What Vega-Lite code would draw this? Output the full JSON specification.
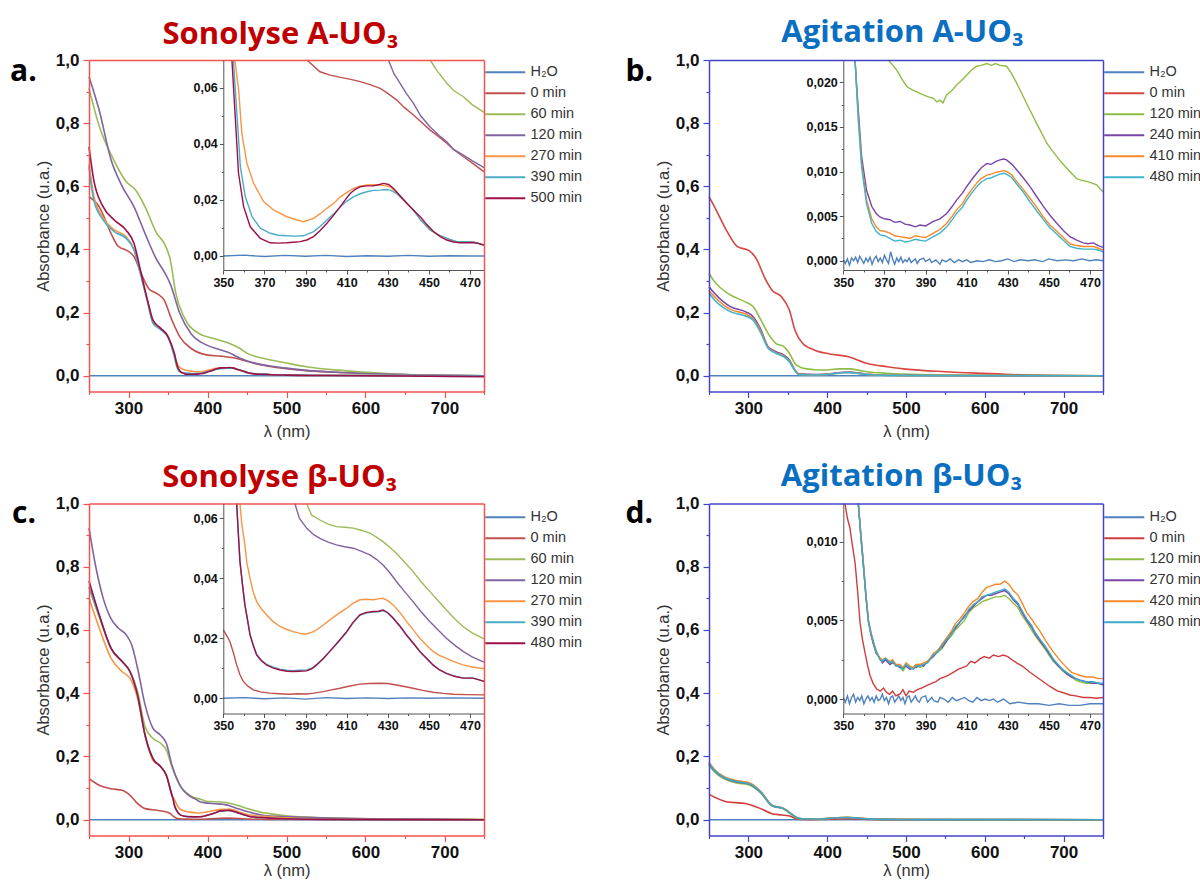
{
"$schema": "https://vega.github.io/schema/vega-lite/v6.json",
"width": 1200, "height": 882, "autosize": {"type": "none"}, "padding": 0, "background": "white",
"config": {
  "view": {"stroke": null},
  "axis": {"labelFont": "Liberation Sans", "titleFont": "Liberation Sans", "labelColor": "#111", "titleColor": "#333", "titleFontWeight": "normal", "labelFontWeight": "bold", "grid": false, "labelOverlap": false, "labelFlush": false, "labelBound": false},
  "legend": {"labelFont": "Liberation Sans", "labelFontSize": 14.5, "labelColor": "#333"}
},
"datasets": {
"aM": [
{"s":"H₂O","x":250,"y":0},{"s":"H₂O","x":500,"y":0},{"s":"H₂O","x":750,"y":0},
{"s":"0 min","x":250,"y":0.567},{"s":"0 min","x":263,"y":0.535},{"s":"0 min","x":278,"y":0.45},{"s":"0 min","x":287,"y":0.41},{"s":"0 min","x":297,"y":0.398},{"s":"0 min","x":307,"y":0.377},{"s":"0 min","x":316,"y":0.324},{"s":"0 min","x":326,"y":0.275},{"s":"0 min","x":336,"y":0.26},{"s":"0 min","x":345,"y":0.24},{"s":"0 min","x":355,"y":0.176},{"s":"0 min","x":365,"y":0.123},{"s":"0 min","x":379,"y":0.087},{"s":"0 min","x":399,"y":0.066},{"s":"0 min","x":417,"y":0.062},{"s":"0 min","x":434,"y":0.056},{"s":"0 min","x":451,"y":0.045},{"s":"0 min","x":467,"y":0.035},{"s":"0 min","x":477,"y":0.03},{"s":"0 min","x":500,"y":0.022},{"s":"0 min","x":525,"y":0.016},{"s":"0 min","x":573,"y":0.01},{"s":"0 min","x":622,"y":0.006},{"s":"0 min","x":670,"y":0.002},{"s":"0 min","x":750,"y":0},
{"s":"60 min","x":250,"y":0.91},{"s":"60 min","x":263,"y":0.79},{"s":"60 min","x":282,"y":0.68},{"s":"60 min","x":297,"y":0.615},{"s":"60 min","x":309,"y":0.588},{"s":"60 min","x":321,"y":0.535},{"s":"60 min","x":336,"y":0.45},{"s":"60 min","x":345,"y":0.42},{"s":"60 min","x":353,"y":0.366},{"s":"60 min","x":360,"y":0.26},{"s":"60 min","x":370,"y":0.187},{"s":"60 min","x":389,"y":0.134},{"s":"60 min","x":408,"y":0.118},{"s":"60 min","x":428,"y":0.102},{"s":"60 min","x":440,"y":0.088},{"s":"60 min","x":451,"y":0.07},{"s":"60 min","x":460,"y":0.0616},{"s":"60 min","x":467,"y":0.0568},{"s":"60 min","x":477,"y":0.0514},{"s":"60 min","x":500,"y":0.04},{"s":"60 min","x":525,"y":0.0285},{"s":"60 min","x":573,"y":0.016},{"s":"60 min","x":622,"y":0.0074},{"s":"60 min","x":670,"y":0.002},{"s":"60 min","x":750,"y":0},
{"s":"120 min","x":250,"y":0.947},{"s":"120 min","x":263,"y":0.84},{"s":"120 min","x":278,"y":0.683},{"s":"120 min","x":292,"y":0.6},{"s":"120 min","x":307,"y":0.535},{"s":"120 min","x":321,"y":0.45},{"s":"120 min","x":336,"y":0.366},{"s":"120 min","x":345,"y":0.33},{"s":"120 min","x":353,"y":0.29},{"s":"120 min","x":365,"y":0.197},{"s":"120 min","x":379,"y":0.134},{"s":"120 min","x":399,"y":0.097},{"s":"120 min","x":415,"y":0.083},{"s":"120 min","x":430,"y":0.07},{"s":"120 min","x":436,"y":0.0616},{"s":"120 min","x":442.5,"y":0.0544},{"s":"120 min","x":451,"y":0.046},{"s":"120 min","x":459,"y":0.0407},{"s":"120 min","x":467,"y":0.036},{"s":"120 min","x":477,"y":0.0318},{"s":"120 min","x":500,"y":0.024},{"s":"120 min","x":525,"y":0.017},{"s":"120 min","x":573,"y":0.0095},{"s":"120 min","x":622,"y":0.005},{"s":"120 min","x":670,"y":0.002},{"s":"120 min","x":750,"y":0},
{"s":"270 min","x":250,"y":0.67},{"s":"270 min","x":256,"y":0.57},{"s":"270 min","x":268,"y":0.5},{"s":"270 min","x":282,"y":0.462},{"s":"270 min","x":297,"y":0.44},{"s":"270 min","x":307,"y":0.4},{"s":"270 min","x":316,"y":0.318},{"s":"270 min","x":324,"y":0.238},{"s":"270 min","x":331,"y":0.17},{"s":"270 min","x":341,"y":0.148},{"s":"270 min","x":350,"y":0.125},{"s":"270 min","x":357,"y":0.075},{"s":"270 min","x":362,"y":0.036},{"s":"270 min","x":365,"y":0.026},{"s":"270 min","x":370,"y":0.0194},{"s":"270 min","x":374,"y":0.0164},{"s":"270 min","x":381,"y":0.014},{"s":"270 min","x":389,"y":0.0122},{"s":"270 min","x":394,"y":0.0134},{"s":"270 min","x":400,"y":0.017},{"s":"270 min","x":407,"y":0.0211},{"s":"270 min","x":413,"y":0.0241},{"s":"270 min","x":420,"y":0.0253},{"s":"270 min","x":426,"y":0.0253},{"s":"270 min","x":431,"y":0.0247},{"s":"270 min","x":438,"y":0.02},{"s":"270 min","x":442.5,"y":0.0164},{"s":"270 min","x":451,"y":0.0093},{"s":"270 min","x":459,"y":0.0063},{"s":"270 min","x":470,"y":0.0051},{"s":"270 min","x":477,"y":0.0039},{"s":"270 min","x":500,"y":0.002},{"s":"270 min","x":550,"y":0.001},{"s":"270 min","x":750,"y":0},
{"s":"390 min","x":250,"y":0.662},{"s":"390 min","x":256,"y":0.556},{"s":"390 min","x":268,"y":0.493},{"s":"390 min","x":282,"y":0.456},{"s":"390 min","x":297,"y":0.435},{"s":"390 min","x":307,"y":0.398},{"s":"390 min","x":316,"y":0.314},{"s":"390 min","x":324,"y":0.234},{"s":"390 min","x":331,"y":0.166},{"s":"390 min","x":341,"y":0.145},{"s":"390 min","x":350,"y":0.121},{"s":"390 min","x":357,"y":0.07},{"s":"390 min","x":361,"y":0.03},{"s":"390 min","x":364,"y":0.014},{"s":"390 min","x":368,"y":0.0099},{"s":"390 min","x":373,"y":0.0081},{"s":"390 min","x":381,"y":0.0072},{"s":"390 min","x":389,"y":0.0072},{"s":"390 min","x":394,"y":0.0087},{"s":"390 min","x":400,"y":0.0128},{"s":"390 min","x":407,"y":0.0176},{"s":"390 min","x":413,"y":0.0211},{"s":"390 min","x":420,"y":0.0229},{"s":"390 min","x":426,"y":0.0235},{"s":"390 min","x":431,"y":0.0235},{"s":"390 min","x":438,"y":0.02},{"s":"390 min","x":442.5,"y":0.0164},{"s":"390 min","x":451,"y":0.0093},{"s":"390 min","x":459,"y":0.0063},{"s":"390 min","x":470,"y":0.0051},{"s":"390 min","x":477,"y":0.0039},{"s":"390 min","x":500,"y":0.002},{"s":"390 min","x":550,"y":0.001},{"s":"390 min","x":750,"y":0},
{"s":"500 min","x":250,"y":0.725},{"s":"500 min","x":256,"y":0.62},{"s":"500 min","x":268,"y":0.535},{"s":"500 min","x":282,"y":0.493},{"s":"500 min","x":297,"y":0.461},{"s":"500 min","x":307,"y":0.419},{"s":"500 min","x":316,"y":0.324},{"s":"500 min","x":324,"y":0.24},{"s":"500 min","x":331,"y":0.176},{"s":"500 min","x":341,"y":0.15},{"s":"500 min","x":350,"y":0.124},{"s":"500 min","x":358,"y":0.071},{"s":"500 min","x":362,"y":0.029},{"s":"500 min","x":366,"y":0.012},{"s":"500 min","x":370,"y":0.0074},{"s":"500 min","x":373,"y":0.0047},{"s":"500 min","x":381,"y":0.0047},{"s":"500 min","x":387,"y":0.0051},{"s":"500 min","x":394,"y":0.0069},{"s":"500 min","x":400,"y":0.0117},{"s":"500 min","x":407,"y":0.0176},{"s":"500 min","x":412,"y":0.0223},{"s":"500 min","x":417,"y":0.0247},{"s":"500 min","x":423,"y":0.025},{"s":"500 min","x":428,"y":0.0259},{"s":"500 min","x":433,"y":0.0241},{"s":"500 min","x":439,"y":0.0188},{"s":"500 min","x":446,"y":0.014},{"s":"500 min","x":452,"y":0.0087},{"s":"500 min","x":459,"y":0.0057},{"s":"500 min","x":465,"y":0.0047},{"s":"500 min","x":472,"y":0.0048},{"s":"500 min","x":477,"y":0.0039},{"s":"500 min","x":500,"y":0.002},{"s":"500 min","x":550,"y":0.0005},{"s":"500 min","x":650,"y":-0.001},{"s":"500 min","x":750,"y":-0.003}
],
"aI": [
{"s":"H₂O","x":350,"y":0},{"s":"H₂O","x":360,"y":0.0003},{"s":"H₂O","x":370,"y":-0.0002},{"s":"H₂O","x":380,"y":0.0002},{"s":"H₂O","x":390,"y":-0.0001},{"s":"H₂O","x":400,"y":0.0002},{"s":"H₂O","x":410,"y":-0.0002},{"s":"H₂O","x":420,"y":0.0001},{"s":"H₂O","x":430,"y":-0.0001},{"s":"H₂O","x":440,"y":0.0002},{"s":"H₂O","x":450,"y":-0.0001},{"s":"H₂O","x":460,"y":0.0001},{"s":"H₂O","x":470,"y":0},{"s":"H₂O","x":476.8,"y":0},
{"s":"0 min","x":390.7,"y":0.0699},{"s":"0 min","x":397,"y":0.0657},{"s":"0 min","x":402,"y":0.0645},{"s":"0 min","x":407,"y":0.0637},{"s":"0 min","x":412,"y":0.063},{"s":"0 min","x":416.6,"y":0.0622},{"s":"0 min","x":421,"y":0.0612},{"s":"0 min","x":426.3,"y":0.0598},{"s":"0 min","x":430,"y":0.058},{"s":"0 min","x":434.4,"y":0.0556},{"s":"0 min","x":438,"y":0.053},{"s":"0 min","x":442.5,"y":0.0503},{"s":"0 min","x":446,"y":0.048},{"s":"0 min","x":450.6,"y":0.0449},{"s":"0 min","x":454,"y":0.043},{"s":"0 min","x":458.7,"y":0.0402},{"s":"0 min","x":462,"y":0.038},{"s":"0 min","x":466.8,"y":0.0354},{"s":"0 min","x":471,"y":0.0332},{"s":"0 min","x":476.8,"y":0.03},
{"s":"60 min","x":450.6,"y":0.0699},{"s":"60 min","x":454,"y":0.066},{"s":"60 min","x":458.7,"y":0.0616},{"s":"60 min","x":462,"y":0.059},{"s":"60 min","x":466.8,"y":0.0568},{"s":"60 min","x":471,"y":0.054},{"s":"60 min","x":476.8,"y":0.0512},
{"s":"120 min","x":430.3,"y":0.0699},{"s":"120 min","x":433,"y":0.065},{"s":"120 min","x":436,"y":0.0616},{"s":"120 min","x":439,"y":0.058},{"s":"120 min","x":442.5,"y":0.0544},{"s":"120 min","x":446,"y":0.05},{"s":"120 min","x":450.6,"y":0.046},{"s":"120 min","x":455,"y":0.043},{"s":"120 min","x":458.7,"y":0.0407},{"s":"120 min","x":462,"y":0.038},{"s":"120 min","x":466.8,"y":0.036},{"s":"120 min","x":471,"y":0.034},{"s":"120 min","x":476.8,"y":0.0315},
{"s":"270 min","x":355.6,"y":0.0699},{"s":"270 min","x":357.5,"y":0.059},{"s":"270 min","x":359,"y":0.0438},{"s":"270 min","x":361.5,"y":0.033},{"s":"270 min","x":364.7,"y":0.026},{"s":"270 min","x":369.6,"y":0.0194},{"s":"270 min","x":374.4,"y":0.0164},{"s":"270 min","x":380.9,"y":0.014},{"s":"270 min","x":385,"y":0.013},{"s":"270 min","x":389,"y":0.0122},{"s":"270 min","x":393.9,"y":0.0134},{"s":"270 min","x":397,"y":0.015},{"s":"270 min","x":400.4,"y":0.017},{"s":"270 min","x":404,"y":0.019},{"s":"270 min","x":406.9,"y":0.0211},{"s":"270 min","x":410,"y":0.0226},{"s":"270 min","x":413.3,"y":0.0241},{"s":"270 min","x":416.6,"y":0.0249},{"s":"270 min","x":419.8,"y":0.0253},{"s":"270 min","x":423,"y":0.0254},{"s":"270 min","x":426.3,"y":0.0253},{"s":"270 min","x":429,"y":0.025},{"s":"270 min","x":431.2,"y":0.0247},{"s":"270 min","x":434.4,"y":0.0225},{"s":"270 min","x":437.6,"y":0.02},{"s":"270 min","x":442.5,"y":0.0164},{"s":"270 min","x":446,"y":0.0128},{"s":"270 min","x":450.6,"y":0.0093},{"s":"270 min","x":454.6,"y":0.0075},{"s":"270 min","x":458.7,"y":0.0063},{"s":"270 min","x":463.5,"y":0.0051},{"s":"270 min","x":470,"y":0.0051},{"s":"270 min","x":473,"y":0.0047},{"s":"270 min","x":476.8,"y":0.0039},
{"s":"390 min","x":354.9,"y":0.0699},{"s":"390 min","x":356.7,"y":0.0497},{"s":"390 min","x":358.3,"y":0.0318},{"s":"390 min","x":360.7,"y":0.0211},{"s":"390 min","x":364,"y":0.014},{"s":"390 min","x":368,"y":0.0099},{"s":"390 min","x":372.8,"y":0.0081},{"s":"390 min","x":376.8,"y":0.0074},{"s":"390 min","x":380.9,"y":0.0072},{"s":"390 min","x":385,"y":0.0071},{"s":"390 min","x":389,"y":0.0072},{"s":"390 min","x":393.9,"y":0.0087},{"s":"390 min","x":397,"y":0.0105},{"s":"390 min","x":400.4,"y":0.0128},{"s":"390 min","x":404,"y":0.0152},{"s":"390 min","x":406.9,"y":0.0176},{"s":"390 min","x":410,"y":0.0195},{"s":"390 min","x":413.3,"y":0.0211},{"s":"390 min","x":416.6,"y":0.0222},{"s":"390 min","x":419.8,"y":0.0229},{"s":"390 min","x":423,"y":0.0234},{"s":"390 min","x":426.3,"y":0.0235},{"s":"390 min","x":429,"y":0.0237},{"s":"390 min","x":431.2,"y":0.0235},{"s":"390 min","x":434.4,"y":0.0222},{"s":"390 min","x":437.6,"y":0.02},{"s":"390 min","x":442.5,"y":0.0164},{"s":"390 min","x":446,"y":0.0128},{"s":"390 min","x":450.6,"y":0.0093},{"s":"390 min","x":454.6,"y":0.0075},{"s":"390 min","x":458.7,"y":0.0063},{"s":"390 min","x":463.5,"y":0.0051},{"s":"390 min","x":470,"y":0.0051},{"s":"390 min","x":473,"y":0.0047},{"s":"390 min","x":476.8,"y":0.0039},
{"s":"500 min","x":354.2,"y":0.0699},{"s":"500 min","x":355.8,"y":0.0497},{"s":"500 min","x":357.4,"y":0.0295},{"s":"500 min","x":359.9,"y":0.0176},{"s":"500 min","x":363.1,"y":0.0104},{"s":"500 min","x":368,"y":0.0063},{"s":"500 min","x":372.8,"y":0.0047},{"s":"500 min","x":376.8,"y":0.0046},{"s":"500 min","x":380.9,"y":0.0047},{"s":"500 min","x":384,"y":0.0049},{"s":"500 min","x":387.4,"y":0.0051},{"s":"500 min","x":390.6,"y":0.0057},{"s":"500 min","x":393.9,"y":0.0069},{"s":"500 min","x":397,"y":0.009},{"s":"500 min","x":400.4,"y":0.0117},{"s":"500 min","x":403.6,"y":0.0145},{"s":"500 min","x":406.9,"y":0.0176},{"s":"500 min","x":409.3,"y":0.02},{"s":"500 min","x":411.7,"y":0.0223},{"s":"500 min","x":414,"y":0.0237},{"s":"500 min","x":416.6,"y":0.0247},{"s":"500 min","x":419.8,"y":0.025},{"s":"500 min","x":423,"y":0.025},{"s":"500 min","x":426,"y":0.0255},{"s":"500 min","x":427.9,"y":0.0259},{"s":"500 min","x":430.4,"y":0.0255},{"s":"500 min","x":432.8,"y":0.0241},{"s":"500 min","x":436,"y":0.0215},{"s":"500 min","x":439.3,"y":0.0188},{"s":"500 min","x":442.5,"y":0.0163},{"s":"500 min","x":445.8,"y":0.014},{"s":"500 min","x":449,"y":0.0112},{"s":"500 min","x":452.2,"y":0.0087},{"s":"500 min","x":455.5,"y":0.0069},{"s":"500 min","x":458.7,"y":0.0057},{"s":"500 min","x":462,"y":0.005},{"s":"500 min","x":465.2,"y":0.0047},{"s":"500 min","x":468.4,"y":0.0047},{"s":"500 min","x":471.6,"y":0.0048},{"s":"500 min","x":474,"y":0.0045},{"s":"500 min","x":476.8,"y":0.0039}
],
"bM": [
{"s":"H₂O","x":250,"y":0},{"s":"H₂O","x":500,"y":0},{"s":"H₂O","x":750,"y":0},
{"s":"0 min","x":250,"y":0.567},{"s":"0 min","x":257,"y":0.535},{"s":"0 min","x":272,"y":0.461},{"s":"0 min","x":286,"y":0.409},{"s":"0 min","x":301,"y":0.396},{"s":"0 min","x":311,"y":0.366},{"s":"0 min","x":320,"y":0.314},{"s":"0 min","x":330,"y":0.271},{"s":"0 min","x":342,"y":0.25},{"s":"0 min","x":352,"y":0.208},{"s":"0 min","x":359,"y":0.145},{"s":"0 min","x":369,"y":0.102},{"s":"0 min","x":384,"y":0.081},{"s":"0 min","x":403,"y":0.069},{"s":"0 min","x":427,"y":0.06},{"s":"0 min","x":451,"y":0.039},{"s":"0 min","x":476,"y":0.0285},{"s":"0 min","x":500,"y":0.021},{"s":"0 min","x":549,"y":0.0127},{"s":"0 min","x":597,"y":0.0074},{"s":"0 min","x":646,"y":0.003},{"s":"0 min","x":750,"y":0},
{"s":"120 min","x":250,"y":0.324},{"s":"120 min","x":257,"y":0.298},{"s":"120 min","x":277,"y":0.256},{"s":"120 min","x":296,"y":0.234},{"s":"120 min","x":306,"y":0.219},{"s":"120 min","x":316,"y":0.176},{"s":"120 min","x":325,"y":0.134},{"s":"120 min","x":335,"y":0.102},{"s":"120 min","x":345,"y":0.092},{"s":"120 min","x":352,"y":0.071},{"s":"120 min","x":359,"y":0.039},{"s":"120 min","x":365,"y":0.028},{"s":"120 min","x":372,"y":0.0225},{"s":"120 min","x":384,"y":0.0191},{"s":"120 min","x":397,"y":0.018},{"s":"120 min","x":405,"y":0.0197},{"s":"120 min","x":415,"y":0.0218},{"s":"120 min","x":429,"y":0.0218},{"s":"120 min","x":439,"y":0.0176},{"s":"120 min","x":449,"y":0.0132},{"s":"120 min","x":459,"y":0.0104},{"s":"120 min","x":476,"y":0.0077},{"s":"120 min","x":500,"y":0.005},{"s":"120 min","x":550,"y":0.002},{"s":"120 min","x":650,"y":0.001},{"s":"120 min","x":750,"y":0},
{"s":"240 min","x":250,"y":0.282},{"s":"240 min","x":257,"y":0.261},{"s":"240 min","x":277,"y":0.219},{"s":"240 min","x":296,"y":0.203},{"s":"240 min","x":306,"y":0.187},{"s":"240 min","x":316,"y":0.145},{"s":"240 min","x":325,"y":0.092},{"s":"240 min","x":335,"y":0.076},{"s":"240 min","x":345,"y":0.065},{"s":"240 min","x":352,"y":0.05},{"s":"240 min","x":359,"y":0.018},{"s":"240 min","x":364,"y":0.006},{"s":"240 min","x":377,"y":0.0044},{"s":"240 min","x":387,"y":0.004},{"s":"240 min","x":400,"y":0.0053},{"s":"240 min","x":410,"y":0.0083},{"s":"240 min","x":420,"y":0.0109},{"s":"240 min","x":429,"y":0.0113},{"s":"240 min","x":441,"y":0.0083},{"s":"240 min","x":454,"y":0.0042},{"s":"240 min","x":467,"y":0.002},{"s":"240 min","x":476,"y":0.0015},{"s":"240 min","x":520,"y":0.0005},{"s":"240 min","x":750,"y":0},
{"s":"410 min","x":250,"y":0.27},{"s":"410 min","x":257,"y":0.25},{"s":"410 min","x":277,"y":0.21},{"s":"410 min","x":296,"y":0.196},{"s":"410 min","x":306,"y":0.18},{"s":"410 min","x":316,"y":0.14},{"s":"410 min","x":325,"y":0.089},{"s":"410 min","x":335,"y":0.073},{"s":"410 min","x":345,"y":0.062},{"s":"410 min","x":352,"y":0.047},{"s":"410 min","x":359,"y":0.017},{"s":"410 min","x":364,"y":0.005},{"s":"410 min","x":377,"y":0.0027},{"s":"410 min","x":387,"y":0.0027},{"s":"410 min","x":400,"y":0.0042},{"s":"410 min","x":410,"y":0.0072},{"s":"410 min","x":420,"y":0.0096},{"s":"410 min","x":429,"y":0.01},{"s":"410 min","x":441,"y":0.007},{"s":"410 min","x":454,"y":0.0033},{"s":"410 min","x":467,"y":0.0016},{"s":"410 min","x":476,"y":0.0012},{"s":"410 min","x":520,"y":0.0004},{"s":"410 min","x":750,"y":0},
{"s":"480 min","x":250,"y":0.261},{"s":"480 min","x":257,"y":0.24},{"s":"480 min","x":277,"y":0.203},{"s":"480 min","x":296,"y":0.189},{"s":"480 min","x":306,"y":0.176},{"s":"480 min","x":316,"y":0.134},{"s":"480 min","x":325,"y":0.087},{"s":"480 min","x":335,"y":0.071},{"s":"480 min","x":345,"y":0.06},{"s":"480 min","x":352,"y":0.044},{"s":"480 min","x":359,"y":0.016},{"s":"480 min","x":364,"y":0.003},{"s":"480 min","x":377,"y":0.0024},{"s":"480 min","x":387,"y":0.0023},{"s":"480 min","x":400,"y":0.0038},{"s":"480 min","x":410,"y":0.0068},{"s":"480 min","x":420,"y":0.0092},{"s":"480 min","x":429,"y":0.0097},{"s":"480 min","x":441,"y":0.0066},{"s":"480 min","x":454,"y":0.003},{"s":"480 min","x":467,"y":0.0014},{"s":"480 min","x":476,"y":0.001},{"s":"480 min","x":520,"y":0.0003},{"s":"480 min","x":750,"y":0}
],
"bI": [
{"s":"H₂O","x":350,"y":0.0001},{"s":"H₂O","x":351,"y":-0.0003},{"s":"H₂O","x":352,"y":0.0002},{"s":"H₂O","x":353,"y":-0.0005},{"s":"H₂O","x":354,"y":0.0003},{"s":"H₂O","x":355,"y":0},{"s":"H₂O","x":356,"y":0.0004},{"s":"H₂O","x":357,"y":-0.0002},{"s":"H₂O","x":358,"y":0.0005},{"s":"H₂O","x":359,"y":0.0001},{"s":"H₂O","x":360,"y":-0.0003},{"s":"H₂O","x":361,"y":0.0003},{"s":"H₂O","x":362,"y":-0.0001},{"s":"H₂O","x":363,"y":0.0004},{"s":"H₂O","x":364,"y":-0.0004},{"s":"H₂O","x":365,"y":0.0002},{"s":"H₂O","x":366,"y":0.0005},{"s":"H₂O","x":367,"y":-0.0001},{"s":"H₂O","x":368,"y":0.0003},{"s":"H₂O","x":369,"y":-0.0002},{"s":"H₂O","x":370,"y":0.0006},{"s":"H₂O","x":371,"y":0.0001},{"s":"H₂O","x":372,"y":-0.0003},{"s":"H₂O","x":373,"y":0.001},{"s":"H₂O","x":374,"y":0.0002},{"s":"H₂O","x":375,"y":-0.0004},{"s":"H₂O","x":376,"y":0.0003},{"s":"H₂O","x":377,"y":-0.0001},{"s":"H₂O","x":378,"y":0.0004},{"s":"H₂O","x":379,"y":-0.0002},{"s":"H₂O","x":380,"y":0.0001},{"s":"H₂O","x":381,"y":-0.0001},{"s":"H₂O","x":382,"y":0.0003},{"s":"H₂O","x":383,"y":-0.0002},{"s":"H₂O","x":385,"y":0.0002},{"s":"H₂O","x":386,"y":-0.0003},{"s":"H₂O","x":387,"y":0.0001},{"s":"H₂O","x":389,"y":0.0003},{"s":"H₂O","x":390,"y":-0.0001},{"s":"H₂O","x":392,"y":0.0002},{"s":"H₂O","x":393,"y":-0.0002},{"s":"H₂O","x":395,"y":0.0001},{"s":"H₂O","x":397,"y":-0.0004},{"s":"H₂O","x":398,"y":0.0001},{"s":"H₂O","x":400,"y":-0.0001},{"s":"H₂O","x":402,"y":0.0002},{"s":"H₂O","x":404,"y":-0.0002},{"s":"H₂O","x":406,"y":0.0001},{"s":"H₂O","x":408,"y":-0.0001},{"s":"H₂O","x":410,"y":0.0001},{"s":"H₂O","x":412,"y":-0.0002},{"s":"H₂O","x":415,"y":0},{"s":"H₂O","x":418,"y":-0.0001},{"s":"H₂O","x":421,"y":0.0001},{"s":"H₂O","x":424,"y":-0.0001},{"s":"H₂O","x":427,"y":0},{"s":"H₂O","x":430,"y":0.0002},{"s":"H₂O","x":433,"y":-0.0001},{"s":"H₂O","x":436,"y":0.0001},{"s":"H₂O","x":440,"y":0},{"s":"H₂O","x":443,"y":0.0001},{"s":"H₂O","x":447,"y":-0.0001},{"s":"H₂O","x":450,"y":0.0002},{"s":"H₂O","x":454,"y":0},{"s":"H₂O","x":458,"y":0.0001},{"s":"H₂O","x":462,"y":0},{"s":"H₂O","x":466,"y":0.0002},{"s":"H₂O","x":470,"y":0},{"s":"H₂O","x":473,"y":0.0001},{"s":"H₂O","x":476.3,"y":0},
{"s":"120 min","x":371.9,"y":0.0225},{"s":"120 min","x":375.9,"y":0.0214},{"s":"120 min","x":379.2,"y":0.0201},{"s":"120 min","x":381,"y":0.0195},{"s":"120 min","x":384,"y":0.0191},{"s":"120 min","x":386,"y":0.0189},{"s":"120 min","x":388.9,"y":0.0186},{"s":"120 min","x":391,"y":0.0184},{"s":"120 min","x":393.8,"y":0.0182},{"s":"120 min","x":395.5,"y":0.0178},{"s":"120 min","x":397,"y":0.018},{"s":"120 min","x":398.5,"y":0.0177},{"s":"120 min","x":400.3,"y":0.0186},{"s":"120 min","x":402.5,"y":0.019},{"s":"120 min","x":405.1,"y":0.0197},{"s":"120 min","x":407.5,"y":0.0202},{"s":"120 min","x":410,"y":0.0208},{"s":"120 min","x":412.5,"y":0.0214},{"s":"120 min","x":414.9,"y":0.0218},{"s":"120 min","x":417,"y":0.0219},{"s":"120 min","x":419.8,"y":0.0221},{"s":"120 min","x":422,"y":0.0219},{"s":"120 min","x":424,"y":0.0221},{"s":"120 min","x":426.2,"y":0.0219},{"s":"120 min","x":429.4,"y":0.0218},{"s":"120 min","x":431.8,"y":0.021},{"s":"120 min","x":434.3,"y":0.0199},{"s":"120 min","x":436.7,"y":0.0188},{"s":"120 min","x":439.2,"y":0.0176},{"s":"120 min","x":441.6,"y":0.0165},{"s":"120 min","x":444,"y":0.0154},{"s":"120 min","x":446.5,"y":0.0143},{"s":"120 min","x":448.9,"y":0.0132},{"s":"120 min","x":451.4,"y":0.0124},{"s":"120 min","x":453.8,"y":0.0117},{"s":"120 min","x":456.2,"y":0.011},{"s":"120 min","x":458.6,"y":0.0104},{"s":"120 min","x":461,"y":0.0098},{"s":"120 min","x":463.5,"y":0.0092},{"s":"120 min","x":466,"y":0.009},{"s":"120 min","x":468.4,"y":0.0089},{"s":"120 min","x":471,"y":0.0087},{"s":"120 min","x":473.2,"y":0.0085},{"s":"120 min","x":476.3,"y":0.0077},
{"s":"240 min","x":355.7,"y":0.0225},{"s":"240 min","x":357.3,"y":0.0169},{"s":"240 min","x":358.9,"y":0.0117},{"s":"240 min","x":361.3,"y":0.0079},{"s":"240 min","x":363.8,"y":0.0061},{"s":"240 min","x":366,"y":0.0053},{"s":"240 min","x":367.8,"y":0.0049},{"s":"240 min","x":370,"y":0.0047},{"s":"240 min","x":372.7,"y":0.0046},{"s":"240 min","x":375,"y":0.0043},{"s":"240 min","x":377.6,"y":0.0044},{"s":"240 min","x":380,"y":0.0041},{"s":"240 min","x":382.4,"y":0.004},{"s":"240 min","x":385,"y":0.0038},{"s":"240 min","x":387.3,"y":0.004},{"s":"240 min","x":390,"y":0.0039},{"s":"240 min","x":393.8,"y":0.0044},{"s":"240 min","x":397,"y":0.0047},{"s":"240 min","x":400.3,"y":0.0053},{"s":"240 min","x":403,"y":0.0061},{"s":"240 min","x":405.1,"y":0.0068},{"s":"240 min","x":408,"y":0.0076},{"s":"240 min","x":410,"y":0.0083},{"s":"240 min","x":412.5,"y":0.0091},{"s":"240 min","x":414.9,"y":0.0098},{"s":"240 min","x":417,"y":0.0104},{"s":"240 min","x":419.8,"y":0.0109},{"s":"240 min","x":422,"y":0.0108},{"s":"240 min","x":424,"y":0.0111},{"s":"240 min","x":426.2,"y":0.0113},{"s":"240 min","x":428,"y":0.0114},{"s":"240 min","x":429.4,"y":0.0113},{"s":"240 min","x":432,"y":0.0108},{"s":"240 min","x":434.3,"y":0.0102},{"s":"240 min","x":437.5,"y":0.0093},{"s":"240 min","x":440.8,"y":0.0083},{"s":"240 min","x":444,"y":0.0072},{"s":"240 min","x":447.3,"y":0.0061},{"s":"240 min","x":450.5,"y":0.0051},{"s":"240 min","x":453.8,"y":0.0042},{"s":"240 min","x":457,"y":0.0034},{"s":"240 min","x":460.2,"y":0.0027},{"s":"240 min","x":463.5,"y":0.0023},{"s":"240 min","x":466.7,"y":0.002},{"s":"240 min","x":469,"y":0.0019},{"s":"240 min","x":471.6,"y":0.002},{"s":"240 min","x":474,"y":0.0017},{"s":"240 min","x":476.3,"y":0.0015},
{"s":"410 min","x":355.7,"y":0.0225},{"s":"410 min","x":357.3,"y":0.0161},{"s":"410 min","x":358.9,"y":0.0109},{"s":"410 min","x":361.3,"y":0.0068},{"s":"410 min","x":363.8,"y":0.0047},{"s":"410 min","x":366,"y":0.0038},{"s":"410 min","x":367.8,"y":0.0034},{"s":"410 min","x":370,"y":0.0033},{"s":"410 min","x":372.7,"y":0.0031},{"s":"410 min","x":375,"y":0.0028},{"s":"410 min","x":377.6,"y":0.0027},{"s":"410 min","x":380,"y":0.0026},{"s":"410 min","x":382.4,"y":0.0025},{"s":"410 min","x":385,"y":0.0028},{"s":"410 min","x":387.3,"y":0.0027},{"s":"410 min","x":390,"y":0.0026},{"s":"410 min","x":393.8,"y":0.0031},{"s":"410 min","x":397,"y":0.0035},{"s":"410 min","x":400.3,"y":0.0042},{"s":"410 min","x":403,"y":0.005},{"s":"410 min","x":405.1,"y":0.0057},{"s":"410 min","x":408,"y":0.0064},{"s":"410 min","x":410,"y":0.0072},{"s":"410 min","x":412.5,"y":0.008},{"s":"410 min","x":414.9,"y":0.0087},{"s":"410 min","x":417,"y":0.0092},{"s":"410 min","x":419.8,"y":0.0096},{"s":"410 min","x":422,"y":0.0097},{"s":"410 min","x":424,"y":0.0099},{"s":"410 min","x":426.2,"y":0.01},{"s":"410 min","x":428,"y":0.0101},{"s":"410 min","x":429.4,"y":0.01},{"s":"410 min","x":432,"y":0.0096},{"s":"410 min","x":434.3,"y":0.0089},{"s":"410 min","x":437.5,"y":0.008},{"s":"410 min","x":440.8,"y":0.007},{"s":"410 min","x":444,"y":0.006},{"s":"410 min","x":447.3,"y":0.0049},{"s":"410 min","x":450.5,"y":0.004},{"s":"410 min","x":453.8,"y":0.0033},{"s":"410 min","x":457,"y":0.0026},{"s":"410 min","x":460.2,"y":0.0019},{"s":"410 min","x":463.5,"y":0.0017},{"s":"410 min","x":466.7,"y":0.0016},{"s":"410 min","x":469,"y":0.0016},{"s":"410 min","x":471.6,"y":0.0016},{"s":"410 min","x":474,"y":0.0014},{"s":"410 min","x":476.3,"y":0.0012},
{"s":"480 min","x":355.7,"y":0.0225},{"s":"480 min","x":357.3,"y":0.0157},{"s":"480 min","x":358.9,"y":0.0105},{"s":"480 min","x":361.3,"y":0.0064},{"s":"480 min","x":363.8,"y":0.0042},{"s":"480 min","x":366,"y":0.0033},{"s":"480 min","x":367.8,"y":0.0029},{"s":"480 min","x":370,"y":0.0028},{"s":"480 min","x":372.7,"y":0.0025},{"s":"480 min","x":375,"y":0.0022},{"s":"480 min","x":377.6,"y":0.0023},{"s":"480 min","x":380,"y":0.0021},{"s":"480 min","x":382.4,"y":0.0022},{"s":"480 min","x":385,"y":0.0024},{"s":"480 min","x":387.3,"y":0.0023},{"s":"480 min","x":390,"y":0.0022},{"s":"480 min","x":393.8,"y":0.0027},{"s":"480 min","x":397,"y":0.0031},{"s":"480 min","x":400.3,"y":0.0038},{"s":"480 min","x":403,"y":0.0046},{"s":"480 min","x":405.1,"y":0.0053},{"s":"480 min","x":408,"y":0.006},{"s":"480 min","x":410,"y":0.0068},{"s":"480 min","x":412.5,"y":0.0076},{"s":"480 min","x":414.9,"y":0.0083},{"s":"480 min","x":417,"y":0.0088},{"s":"480 min","x":419.8,"y":0.0092},{"s":"480 min","x":422,"y":0.0093},{"s":"480 min","x":424,"y":0.0095},{"s":"480 min","x":426.2,"y":0.0097},{"s":"480 min","x":428,"y":0.0098},{"s":"480 min","x":429.4,"y":0.0097},{"s":"480 min","x":432,"y":0.0093},{"s":"480 min","x":434.3,"y":0.0086},{"s":"480 min","x":437.5,"y":0.0077},{"s":"480 min","x":440.8,"y":0.0066},{"s":"480 min","x":444,"y":0.0056},{"s":"480 min","x":447.3,"y":0.0046},{"s":"480 min","x":450.5,"y":0.0037},{"s":"480 min","x":453.8,"y":0.003},{"s":"480 min","x":457,"y":0.0023},{"s":"480 min","x":460.2,"y":0.0016},{"s":"480 min","x":463.5,"y":0.0014},{"s":"480 min","x":466.7,"y":0.0013},{"s":"480 min","x":469,"y":0.0013},{"s":"480 min","x":471.6,"y":0.0013},{"s":"480 min","x":474,"y":0.0012},{"s":"480 min","x":476.3,"y":0.001}
],
"cM": [
{"s":"H₂O","x":250,"y":0},{"s":"H₂O","x":500,"y":0},{"s":"H₂O","x":750,"y":0},
{"s":"0 min","x":250,"y":0.13},{"s":"0 min","x":263,"y":0.109},{"s":"0 min","x":278,"y":0.098},{"s":"0 min","x":292,"y":0.093},{"s":"0 min","x":302,"y":0.077},{"s":"0 min","x":311.5,"y":0.051},{"s":"0 min","x":321,"y":0.035},{"s":"0 min","x":336,"y":0.0296},{"s":"0 min","x":350,"y":0.0228},{"s":"0 min","x":353,"y":0.0189},{"s":"0 min","x":356.5,"y":0.0111},{"s":"0 min","x":360,"y":0.0056},{"s":"0 min","x":365,"y":0.0028},{"s":"0 min","x":373,"y":0.0017},{"s":"0 min","x":382,"y":0.0013},{"s":"0 min","x":391,"y":0.0014},{"s":"0 min","x":399,"y":0.0022},{"s":"0 min","x":407,"y":0.0033},{"s":"0 min","x":416,"y":0.0047},{"s":"0 min","x":426,"y":0.005},{"s":"0 min","x":434,"y":0.0044},{"s":"0 min","x":442,"y":0.0033},{"s":"0 min","x":452,"y":0.002},{"s":"0 min","x":462,"y":0.0013},{"s":"0 min","x":476,"y":0.0011},{"s":"0 min","x":520,"y":0.0005},{"s":"0 min","x":750,"y":0},
{"s":"60 min","x":250,"y":0.735},{"s":"60 min","x":263,"y":0.64},{"s":"60 min","x":278,"y":0.542},{"s":"60 min","x":292,"y":0.5},{"s":"60 min","x":302,"y":0.468},{"s":"60 min","x":311.5,"y":0.405},{"s":"60 min","x":321,"y":0.294},{"s":"60 min","x":331,"y":0.257},{"s":"60 min","x":341,"y":0.241},{"s":"60 min","x":348,"y":0.22},{"s":"60 min","x":355,"y":0.167},{"s":"60 min","x":365,"y":0.109},{"s":"60 min","x":379,"y":0.075},{"s":"60 min","x":391,"y":0.065},{"s":"60 min","x":397,"y":0.0594},{"s":"60 min","x":405,"y":0.0572},{"s":"60 min","x":413,"y":0.0567},{"s":"60 min","x":421,"y":0.055},{"s":"60 min","x":428,"y":0.0522},{"s":"60 min","x":434,"y":0.0483},{"s":"60 min","x":442,"y":0.0422},{"s":"60 min","x":450,"y":0.0356},{"s":"60 min","x":458.5,"y":0.0294},{"s":"60 min","x":466.6,"y":0.0239},{"s":"60 min","x":476,"y":0.02},{"s":"60 min","x":500,"y":0.012},{"s":"60 min","x":550,"y":0.006},{"s":"60 min","x":600,"y":0.003},{"s":"60 min","x":750,"y":0.001},
{"s":"120 min","x":250,"y":0.923},{"s":"120 min","x":258,"y":0.807},{"s":"120 min","x":268,"y":0.7},{"s":"120 min","x":277.6,"y":0.637},{"s":"120 min","x":287,"y":0.606},{"s":"120 min","x":297,"y":0.585},{"s":"120 min","x":304,"y":0.553},{"s":"120 min","x":311.5,"y":0.479},{"s":"120 min","x":321,"y":0.363},{"s":"120 min","x":331,"y":0.289},{"s":"120 min","x":340.6,"y":0.267},{"s":"120 min","x":348,"y":0.241},{"s":"120 min","x":355,"y":0.172},{"s":"120 min","x":365,"y":0.109},{"s":"120 min","x":379,"y":0.072},{"s":"120 min","x":385,"y":0.065},{"s":"120 min","x":390.5,"y":0.0567},{"s":"120 min","x":397,"y":0.0533},{"s":"120 min","x":405,"y":0.0511},{"s":"120 min","x":413,"y":0.05},{"s":"120 min","x":421,"y":0.0478},{"s":"120 min","x":428,"y":0.0444},{"s":"120 min","x":434,"y":0.0389},{"s":"120 min","x":442,"y":0.0322},{"s":"120 min","x":450,"y":0.0256},{"s":"120 min","x":458.5,"y":0.02},{"s":"120 min","x":466.6,"y":0.0156},{"s":"120 min","x":476,"y":0.0122},{"s":"120 min","x":500,"y":0.0095},{"s":"120 min","x":550,"y":0.005},{"s":"120 min","x":750,"y":0},
{"s":"270 min","x":250,"y":0.7},{"s":"270 min","x":263,"y":0.606},{"s":"270 min","x":278,"y":0.51},{"s":"270 min","x":292,"y":0.468},{"s":"270 min","x":302,"y":0.447},{"s":"270 min","x":311.5,"y":0.384},{"s":"270 min","x":321,"y":0.267},{"s":"270 min","x":331,"y":0.188},{"s":"270 min","x":341,"y":0.167},{"s":"270 min","x":348,"y":0.14},{"s":"270 min","x":355,"y":0.077},{"s":"270 min","x":358,"y":0.065},{"s":"270 min","x":360.5,"y":0.0511},{"s":"270 min","x":363,"y":0.04},{"s":"270 min","x":366,"y":0.0322},{"s":"270 min","x":371,"y":0.0278},{"s":"270 min","x":377.5,"y":0.0239},{"s":"270 min","x":384,"y":0.0222},{"s":"270 min","x":389.7,"y":0.0213},{"s":"270 min","x":395.4,"y":0.0228},{"s":"270 min","x":401.8,"y":0.0261},{"s":"270 min","x":410,"y":0.03},{"s":"270 min","x":416.4,"y":0.0328},{"s":"270 min","x":422.9,"y":0.0328},{"s":"270 min","x":427.7,"y":0.0333},{"s":"270 min","x":432.6,"y":0.0311},{"s":"270 min","x":439,"y":0.0256},{"s":"270 min","x":445.6,"y":0.02},{"s":"270 min","x":452,"y":0.0156},{"s":"270 min","x":458.5,"y":0.0133},{"s":"270 min","x":466.6,"y":0.0111},{"s":"270 min","x":476.3,"y":0.01},{"s":"270 min","x":500,"y":0.005},{"s":"270 min","x":550,"y":0.002},{"s":"270 min","x":750,"y":0},
{"s":"390 min","x":250,"y":0.735},{"s":"390 min","x":263,"y":0.645},{"s":"390 min","x":278,"y":0.54},{"s":"390 min","x":292,"y":0.5},{"s":"390 min","x":302,"y":0.468},{"s":"390 min","x":311.5,"y":0.394},{"s":"390 min","x":321,"y":0.267},{"s":"390 min","x":331,"y":0.193},{"s":"390 min","x":341,"y":0.167},{"s":"390 min","x":348,"y":0.14},{"s":"390 min","x":355,"y":0.077},{"s":"390 min","x":356.5,"y":0.065},{"s":"390 min","x":358.1,"y":0.0456},{"s":"390 min","x":360.5,"y":0.0311},{"s":"390 min","x":363,"y":0.0211},{"s":"390 min","x":366.2,"y":0.0144},{"s":"390 min","x":371,"y":0.0111},{"s":"390 min","x":377.5,"y":0.0096},{"s":"390 min","x":384,"y":0.0091},{"s":"390 min","x":390.5,"y":0.0093},{"s":"390 min","x":395.4,"y":0.0111},{"s":"390 min","x":401.8,"y":0.0156},{"s":"390 min","x":410,"y":0.0222},{"s":"390 min","x":416.4,"y":0.0278},{"s":"390 min","x":422.9,"y":0.0288},{"s":"390 min","x":427.7,"y":0.0292},{"s":"390 min","x":432.6,"y":0.0267},{"s":"390 min","x":439,"y":0.0211},{"s":"390 min","x":445.6,"y":0.0156},{"s":"390 min","x":452,"y":0.0111},{"s":"390 min","x":458.5,"y":0.0083},{"s":"390 min","x":466.6,"y":0.0067},{"s":"390 min","x":476.3,"y":0.0056},{"s":"390 min","x":500,"y":0.003},{"s":"390 min","x":550,"y":0.001},{"s":"390 min","x":750,"y":0},
{"s":"480 min","x":250,"y":0.755},{"s":"480 min","x":263,"y":0.648},{"s":"480 min","x":278,"y":0.542},{"s":"480 min","x":292,"y":0.5},{"s":"480 min","x":302,"y":0.468},{"s":"480 min","x":311.5,"y":0.394},{"s":"480 min","x":321,"y":0.267},{"s":"480 min","x":331,"y":0.193},{"s":"480 min","x":341,"y":0.167},{"s":"480 min","x":348,"y":0.14},{"s":"480 min","x":355,"y":0.077},{"s":"480 min","x":356.5,"y":0.065},{"s":"480 min","x":358.1,"y":0.0456},{"s":"480 min","x":360.5,"y":0.0311},{"s":"480 min","x":363,"y":0.0211},{"s":"480 min","x":366.2,"y":0.0144},{"s":"480 min","x":371,"y":0.0111},{"s":"480 min","x":377.5,"y":0.0094},{"s":"480 min","x":384,"y":0.0089},{"s":"480 min","x":390.5,"y":0.0091},{"s":"480 min","x":395.4,"y":0.0111},{"s":"480 min","x":401.8,"y":0.0156},{"s":"480 min","x":410,"y":0.0222},{"s":"480 min","x":416.4,"y":0.0278},{"s":"480 min","x":422.9,"y":0.0289},{"s":"480 min","x":427.7,"y":0.0294},{"s":"480 min","x":432.6,"y":0.0267},{"s":"480 min","x":439,"y":0.0211},{"s":"480 min","x":445.6,"y":0.0156},{"s":"480 min","x":452,"y":0.0111},{"s":"480 min","x":458.5,"y":0.0083},{"s":"480 min","x":466.6,"y":0.0067},{"s":"480 min","x":476.3,"y":0.0056},{"s":"480 min","x":500,"y":0.003},{"s":"480 min","x":550,"y":0.001},{"s":"480 min","x":750,"y":0}
],
"cI": [
{"s":"H₂O","x":350,"y":0},{"s":"H₂O","x":360,"y":0.0002},{"s":"H₂O","x":370,"y":-0.0002},{"s":"H₂O","x":380,"y":0.0001},{"s":"H₂O","x":390,"y":-0.0003},{"s":"H₂O","x":400,"y":0.0002},{"s":"H₂O","x":410,"y":-0.0001},{"s":"H₂O","x":420,"y":0.0001},{"s":"H₂O","x":430,"y":-0.0001},{"s":"H₂O","x":440,"y":0.0001},{"s":"H₂O","x":450,"y":0},{"s":"H₂O","x":460,"y":0.0001},{"s":"H₂O","x":476.8,"y":0},
{"s":"0 min","x":350,"y":0.0228},{"s":"0 min","x":351.5,"y":0.021},{"s":"0 min","x":353.2,"y":0.0189},{"s":"0 min","x":355,"y":0.015},{"s":"0 min","x":356.5,"y":0.0111},{"s":"0 min","x":358,"y":0.008},{"s":"0 min","x":359.7,"y":0.0056},{"s":"0 min","x":362,"y":0.004},{"s":"0 min","x":364.6,"y":0.0028},{"s":"0 min","x":368,"y":0.0021},{"s":"0 min","x":372.7,"y":0.0017},{"s":"0 min","x":377,"y":0.0015},{"s":"0 min","x":382.4,"y":0.0013},{"s":"0 min","x":386,"y":0.0015},{"s":"0 min","x":390.5,"y":0.0014},{"s":"0 min","x":394,"y":0.0017},{"s":"0 min","x":398.6,"y":0.0022},{"s":"0 min","x":402,"y":0.0027},{"s":"0 min","x":406.7,"y":0.0033},{"s":"0 min","x":411,"y":0.004},{"s":"0 min","x":416.4,"y":0.0047},{"s":"0 min","x":421,"y":0.0049},{"s":"0 min","x":426.1,"y":0.005},{"s":"0 min","x":430,"y":0.0049},{"s":"0 min","x":434.2,"y":0.0044},{"s":"0 min","x":438,"y":0.0039},{"s":"0 min","x":442.3,"y":0.0033},{"s":"0 min","x":447,"y":0.0026},{"s":"0 min","x":452,"y":0.002},{"s":"0 min","x":457,"y":0.0016},{"s":"0 min","x":461.8,"y":0.0013},{"s":"0 min","x":468,"y":0.0012},{"s":"0 min","x":476.8,"y":0.0011},
{"s":"60 min","x":390.5,"y":0.0649},{"s":"60 min","x":393,"y":0.061},{"s":"60 min","x":397,"y":0.0594},{"s":"60 min","x":401,"y":0.058},{"s":"60 min","x":405,"y":0.0572},{"s":"60 min","x":409,"y":0.057},{"s":"60 min","x":413.2,"y":0.0567},{"s":"60 min","x":417,"y":0.056},{"s":"60 min","x":421.3,"y":0.055},{"s":"60 min","x":424.5,"y":0.0537},{"s":"60 min","x":427.7,"y":0.0522},{"s":"60 min","x":431,"y":0.0503},{"s":"60 min","x":434.2,"y":0.0483},{"s":"60 min","x":438,"y":0.0455},{"s":"60 min","x":442.3,"y":0.0422},{"s":"60 min","x":446,"y":0.039},{"s":"60 min","x":450.4,"y":0.0356},{"s":"60 min","x":454.5,"y":0.0325},{"s":"60 min","x":458.5,"y":0.0294},{"s":"60 min","x":462.5,"y":0.0265},{"s":"60 min","x":466.6,"y":0.0239},{"s":"60 min","x":471,"y":0.0218},{"s":"60 min","x":476.8,"y":0.0198},
{"s":"120 min","x":384.8,"y":0.0649},{"s":"120 min","x":387,"y":0.06},{"s":"120 min","x":390.5,"y":0.0567},{"s":"120 min","x":394,"y":0.0545},{"s":"120 min","x":397,"y":0.0533},{"s":"120 min","x":401,"y":0.052},{"s":"120 min","x":405,"y":0.0511},{"s":"120 min","x":409,"y":0.0505},{"s":"120 min","x":413.2,"y":0.05},{"s":"120 min","x":417,"y":0.049},{"s":"120 min","x":421.3,"y":0.0478},{"s":"120 min","x":424.5,"y":0.0463},{"s":"120 min","x":427.7,"y":0.0444},{"s":"120 min","x":431,"y":0.0418},{"s":"120 min","x":434.2,"y":0.0389},{"s":"120 min","x":438,"y":0.0357},{"s":"120 min","x":442.3,"y":0.0322},{"s":"120 min","x":446,"y":0.029},{"s":"120 min","x":450.4,"y":0.0256},{"s":"120 min","x":454.5,"y":0.0227},{"s":"120 min","x":458.5,"y":0.02},{"s":"120 min","x":462.5,"y":0.0177},{"s":"120 min","x":466.6,"y":0.0156},{"s":"120 min","x":471,"y":0.0138},{"s":"120 min","x":476.8,"y":0.012},
{"s":"270 min","x":358.1,"y":0.0649},{"s":"270 min","x":359,"y":0.058},{"s":"270 min","x":360.5,"y":0.0511},{"s":"270 min","x":361.5,"y":0.045},{"s":"270 min","x":363,"y":0.04},{"s":"270 min","x":364.5,"y":0.0355},{"s":"270 min","x":366.2,"y":0.0322},{"s":"270 min","x":368.5,"y":0.0298},{"s":"270 min","x":371,"y":0.0278},{"s":"270 min","x":374,"y":0.0257},{"s":"270 min","x":377.5,"y":0.0239},{"s":"270 min","x":381,"y":0.0229},{"s":"270 min","x":384,"y":0.0222},{"s":"270 min","x":387,"y":0.0217},{"s":"270 min","x":389.7,"y":0.0213},{"s":"270 min","x":392.5,"y":0.0218},{"s":"270 min","x":395.4,"y":0.0228},{"s":"270 min","x":398.5,"y":0.0243},{"s":"270 min","x":401.8,"y":0.0261},{"s":"270 min","x":406,"y":0.0282},{"s":"270 min","x":410,"y":0.03},{"s":"270 min","x":413,"y":0.0316},{"s":"270 min","x":416.4,"y":0.0328},{"s":"270 min","x":419.5,"y":0.033},{"s":"270 min","x":422.9,"y":0.0328},{"s":"270 min","x":425.5,"y":0.0331},{"s":"270 min","x":427.7,"y":0.0333},{"s":"270 min","x":430,"y":0.0325},{"s":"270 min","x":432.6,"y":0.0311},{"s":"270 min","x":436,"y":0.0285},{"s":"270 min","x":439.1,"y":0.0256},{"s":"270 min","x":442.5,"y":0.0227},{"s":"270 min","x":445.6,"y":0.02},{"s":"270 min","x":449,"y":0.0176},{"s":"270 min","x":452,"y":0.0156},{"s":"270 min","x":455,"y":0.0143},{"s":"270 min","x":458.5,"y":0.0133},{"s":"270 min","x":462.5,"y":0.0121},{"s":"270 min","x":466.6,"y":0.0111},{"s":"270 min","x":471,"y":0.0104},{"s":"270 min","x":476.8,"y":0.0098},
{"s":"390 min","x":356.5,"y":0.0649},{"s":"390 min","x":357.3,"y":0.055},{"s":"390 min","x":358.1,"y":0.0456},{"s":"390 min","x":359.3,"y":0.038},{"s":"390 min","x":360.5,"y":0.0311},{"s":"390 min","x":361.8,"y":0.026},{"s":"390 min","x":363,"y":0.0213},{"s":"390 min","x":364.6,"y":0.0177},{"s":"390 min","x":366.2,"y":0.0147},{"s":"390 min","x":368.5,"y":0.0127},{"s":"390 min","x":371,"y":0.0113},{"s":"390 min","x":374,"y":0.0104},{"s":"390 min","x":377.5,"y":0.0097},{"s":"390 min","x":381,"y":0.0093},{"s":"390 min","x":384,"y":0.0092},{"s":"390 min","x":387,"y":0.0093},{"s":"390 min","x":390.5,"y":0.0094},{"s":"390 min","x":393,"y":0.01},{"s":"390 min","x":395.4,"y":0.0112},{"s":"390 min","x":398.5,"y":0.0132},{"s":"390 min","x":401.8,"y":0.0156},{"s":"390 min","x":406,"y":0.0188},{"s":"390 min","x":410,"y":0.022},{"s":"390 min","x":413,"y":0.025},{"s":"390 min","x":416.4,"y":0.0276},{"s":"390 min","x":419.5,"y":0.0284},{"s":"390 min","x":422.9,"y":0.0287},{"s":"390 min","x":425.5,"y":0.0288},{"s":"390 min","x":427.7,"y":0.0292},{"s":"390 min","x":430,"y":0.0284},{"s":"390 min","x":432.6,"y":0.0266},{"s":"390 min","x":436,"y":0.0238},{"s":"390 min","x":439.1,"y":0.0209},{"s":"390 min","x":442.5,"y":0.0181},{"s":"390 min","x":445.6,"y":0.0155},{"s":"390 min","x":449,"y":0.0131},{"s":"390 min","x":452,"y":0.0111},{"s":"390 min","x":455,"y":0.0095},{"s":"390 min","x":458.5,"y":0.0083},{"s":"390 min","x":462.5,"y":0.0073},{"s":"390 min","x":466.6,"y":0.0067},{"s":"390 min","x":471.5,"y":0.0067},{"s":"390 min","x":474,"y":0.0062},{"s":"390 min","x":476.8,"y":0.0056},
{"s":"480 min","x":356.5,"y":0.0649},{"s":"480 min","x":357.3,"y":0.055},{"s":"480 min","x":358.1,"y":0.0456},{"s":"480 min","x":359.3,"y":0.038},{"s":"480 min","x":360.5,"y":0.0311},{"s":"480 min","x":361.8,"y":0.026},{"s":"480 min","x":363,"y":0.0211},{"s":"480 min","x":364.6,"y":0.0175},{"s":"480 min","x":366.2,"y":0.0144},{"s":"480 min","x":368.5,"y":0.0125},{"s":"480 min","x":371,"y":0.0111},{"s":"480 min","x":374,"y":0.0101},{"s":"480 min","x":377.5,"y":0.0094},{"s":"480 min","x":381,"y":0.009},{"s":"480 min","x":384,"y":0.0089},{"s":"480 min","x":387,"y":0.009},{"s":"480 min","x":390.5,"y":0.0091},{"s":"480 min","x":393,"y":0.0098},{"s":"480 min","x":395.4,"y":0.0111},{"s":"480 min","x":398.5,"y":0.0131},{"s":"480 min","x":401.8,"y":0.0156},{"s":"480 min","x":406,"y":0.0189},{"s":"480 min","x":410,"y":0.0222},{"s":"480 min","x":413,"y":0.0252},{"s":"480 min","x":416.4,"y":0.0278},{"s":"480 min","x":419.5,"y":0.0286},{"s":"480 min","x":422.9,"y":0.0289},{"s":"480 min","x":425.5,"y":0.029},{"s":"480 min","x":427.7,"y":0.0294},{"s":"480 min","x":430,"y":0.0285},{"s":"480 min","x":432.6,"y":0.0267},{"s":"480 min","x":436,"y":0.024},{"s":"480 min","x":439.1,"y":0.0211},{"s":"480 min","x":442.5,"y":0.0183},{"s":"480 min","x":445.6,"y":0.0156},{"s":"480 min","x":449,"y":0.0132},{"s":"480 min","x":452,"y":0.0111},{"s":"480 min","x":455,"y":0.0095},{"s":"480 min","x":458.5,"y":0.0083},{"s":"480 min","x":462.5,"y":0.0073},{"s":"480 min","x":466.6,"y":0.0067},{"s":"480 min","x":471.5,"y":0.0067},{"s":"480 min","x":474,"y":0.0062},{"s":"480 min","x":476.8,"y":0.0056}
],
"dM": [
{"s":"H₂O","x":250,"y":0},{"s":"H₂O","x":500,"y":0},{"s":"H₂O","x":750,"y":0},
{"s":"0 min","x":250,"y":0.08},{"s":"0 min","x":272,"y":0.057},{"s":"0 min","x":296,"y":0.051},{"s":"0 min","x":315.5,"y":0.035},{"s":"0 min","x":330,"y":0.019},{"s":"0 min","x":342,"y":0.015},{"s":"0 min","x":350.8,"y":0.0124},{"s":"0 min","x":355.7,"y":0.0087},{"s":"0 min","x":360.5,"y":0.003},{"s":"0 min","x":366,"y":0.0006},{"s":"0 min","x":378,"y":0.0003},{"s":"0 min","x":390,"y":0.0008},{"s":"0 min","x":403,"y":0.0017},{"s":"0 min","x":416,"y":0.0025},{"s":"0 min","x":428,"y":0.0028},{"s":"0 min","x":441,"y":0.0017},{"s":"0 min","x":454,"y":0.0005},{"s":"0 min","x":466,"y":0.0001},{"s":"0 min","x":750,"y":0},
{"s":"120 min","x":250,"y":0.172},{"s":"120 min","x":257,"y":0.151},{"s":"120 min","x":272,"y":0.126},{"s":"120 min","x":286,"y":0.116},{"s":"120 min","x":301,"y":0.11},{"s":"120 min","x":315.5,"y":0.085},{"s":"120 min","x":330,"y":0.043},{"s":"120 min","x":344.6,"y":0.034},{"s":"120 min","x":354,"y":0.018},{"s":"120 min","x":358,"y":0.011},{"s":"120 min","x":362,"y":0.005},{"s":"120 min","x":368,"y":0.0026},{"s":"120 min","x":378,"y":0.0021},{"s":"120 min","x":388,"y":0.0021},{"s":"120 min","x":400,"y":0.0038},{"s":"120 min","x":413,"y":0.0058},{"s":"120 min","x":426,"y":0.0065},{"s":"120 min","x":439,"y":0.0049},{"s":"120 min","x":452,"y":0.0024},{"s":"120 min","x":465,"y":0.0011},{"s":"120 min","x":476,"y":0.0009},{"s":"120 min","x":520,"y":0.0003},{"s":"120 min","x":750,"y":0},
{"s":"270 min","x":250,"y":0.176},{"s":"270 min","x":257,"y":0.155},{"s":"270 min","x":272,"y":0.129},{"s":"270 min","x":286,"y":0.119},{"s":"270 min","x":301,"y":0.113},{"s":"270 min","x":315.5,"y":0.087},{"s":"270 min","x":330,"y":0.045},{"s":"270 min","x":344.6,"y":0.035},{"s":"270 min","x":354,"y":0.019},{"s":"270 min","x":358,"y":0.012},{"s":"270 min","x":362,"y":0.005},{"s":"270 min","x":368,"y":0.0026},{"s":"270 min","x":378,"y":0.0021},{"s":"270 min","x":388,"y":0.0021},{"s":"270 min","x":400,"y":0.0038},{"s":"270 min","x":413,"y":0.0059},{"s":"270 min","x":426,"y":0.0068},{"s":"270 min","x":439,"y":0.005},{"s":"270 min","x":452,"y":0.0025},{"s":"270 min","x":465,"y":0.0012},{"s":"270 min","x":476,"y":0.0009},{"s":"270 min","x":520,"y":0.0003},{"s":"270 min","x":750,"y":0},
{"s":"420 min","x":250,"y":0.182},{"s":"420 min","x":257,"y":0.159},{"s":"420 min","x":272,"y":0.133},{"s":"420 min","x":286,"y":0.123},{"s":"420 min","x":301,"y":0.117},{"s":"420 min","x":315.5,"y":0.09},{"s":"420 min","x":330,"y":0.046},{"s":"420 min","x":344.6,"y":0.036},{"s":"420 min","x":354,"y":0.02},{"s":"420 min","x":358,"y":0.012},{"s":"420 min","x":362,"y":0.005},{"s":"420 min","x":368,"y":0.0026},{"s":"420 min","x":378,"y":0.0021},{"s":"420 min","x":388,"y":0.0021},{"s":"420 min","x":400,"y":0.0039},{"s":"420 min","x":413,"y":0.0062},{"s":"420 min","x":426,"y":0.0073},{"s":"420 min","x":439,"y":0.0055},{"s":"420 min","x":452,"y":0.003},{"s":"420 min","x":465,"y":0.0015},{"s":"420 min","x":476,"y":0.0013},{"s":"420 min","x":520,"y":0.0004},{"s":"420 min","x":750,"y":0},
{"s":"480 min","x":250,"y":0.178},{"s":"480 min","x":257,"y":0.156},{"s":"480 min","x":272,"y":0.13},{"s":"480 min","x":286,"y":0.12},{"s":"480 min","x":301,"y":0.114},{"s":"480 min","x":315.5,"y":0.088},{"s":"480 min","x":330,"y":0.045},{"s":"480 min","x":344.6,"y":0.035},{"s":"480 min","x":354,"y":0.019},{"s":"480 min","x":358,"y":0.012},{"s":"480 min","x":362,"y":0.005},{"s":"480 min","x":368,"y":0.0026},{"s":"480 min","x":378,"y":0.0021},{"s":"480 min","x":388,"y":0.0021},{"s":"480 min","x":400,"y":0.0038},{"s":"480 min","x":413,"y":0.006},{"s":"480 min","x":426,"y":0.0069},{"s":"480 min","x":439,"y":0.0051},{"s":"480 min","x":452,"y":0.0026},{"s":"480 min","x":465,"y":0.0012},{"s":"480 min","x":476,"y":0.001},{"s":"480 min","x":520,"y":0.0003},{"s":"480 min","x":750,"y":0}
],
"dI": [
{"s":"H₂O","x":350,"y":0.0001},{"s":"H₂O","x":351,"y":-0.0002},{"s":"H₂O","x":352,"y":0.0002},{"s":"H₂O","x":353,"y":-0.0003},{"s":"H₂O","x":354,"y":0.0001},{"s":"H₂O","x":355,"y":0.0003},{"s":"H₂O","x":356,"y":-0.0002},{"s":"H₂O","x":357,"y":0.0001},{"s":"H₂O","x":358,"y":-0.0001},{"s":"H₂O","x":359,"y":0.0002},{"s":"H₂O","x":360,"y":-0.0003},{"s":"H₂O","x":361,"y":0},{"s":"H₂O","x":362,"y":0.0002},{"s":"H₂O","x":363,"y":-0.0001},{"s":"H₂O","x":364,"y":0.0001},{"s":"H₂O","x":365,"y":-0.0002},{"s":"H₂O","x":366,"y":0.0002},{"s":"H₂O","x":367,"y":-0.0001},{"s":"H₂O","x":368,"y":0},{"s":"H₂O","x":369,"y":0.0003},{"s":"H₂O","x":370,"y":-0.0001},{"s":"H₂O","x":371,"y":0.0001},{"s":"H₂O","x":372,"y":-0.0003},{"s":"H₂O","x":373,"y":0.0001},{"s":"H₂O","x":374,"y":0.0002},{"s":"H₂O","x":375,"y":-0.0002},{"s":"H₂O","x":376,"y":0},{"s":"H₂O","x":377,"y":0.0002},{"s":"H₂O","x":378,"y":-0.0001},{"s":"H₂O","x":379,"y":0.0001},{"s":"H₂O","x":380,"y":-0.0003},{"s":"H₂O","x":381,"y":0.0001},{"s":"H₂O","x":382,"y":0.0002},{"s":"H₂O","x":383,"y":-0.0002},{"s":"H₂O","x":384,"y":0},{"s":"H₂O","x":385,"y":0.0002},{"s":"H₂O","x":386,"y":-0.0001},{"s":"H₂O","x":387,"y":-0.0002},{"s":"H₂O","x":388,"y":0.0001},{"s":"H₂O","x":390,"y":0.0002},{"s":"H₂O","x":391,"y":-0.0002},{"s":"H₂O","x":393,"y":0.0001},{"s":"H₂O","x":394,"y":-0.0001},{"s":"H₂O","x":396,"y":-0.0002},{"s":"H₂O","x":397,"y":0.0001},{"s":"H₂O","x":399,"y":0},{"s":"H₂O","x":401,"y":-0.0002},{"s":"H₂O","x":403,"y":0.0001},{"s":"H₂O","x":405,"y":-0.0001},{"s":"H₂O","x":407,"y":0},{"s":"H₂O","x":409,"y":0.0001},{"s":"H₂O","x":411,"y":-0.0001},{"s":"H₂O","x":413,"y":-0.0002},{"s":"H₂O","x":415,"y":0.0001},{"s":"H₂O","x":417,"y":-0.0001},{"s":"H₂O","x":419,"y":0},{"s":"H₂O","x":421,"y":-0.0001},{"s":"H₂O","x":423,"y":0},{"s":"H₂O","x":425,"y":-0.0002},{"s":"H₂O","x":428,"y":0},{"s":"H₂O","x":431,"y":-0.0003},{"s":"H₂O","x":435,"y":-0.0002},{"s":"H₂O","x":440,"y":-0.0003},{"s":"H₂O","x":445,"y":-0.0003},{"s":"H₂O","x":450,"y":-0.0004},{"s":"H₂O","x":455,"y":-0.0003},{"s":"H₂O","x":460,"y":-0.0004},{"s":"H₂O","x":465,"y":-0.0004},{"s":"H₂O","x":470,"y":-0.0003},{"s":"H₂O","x":476.3,"y":-0.0003},
{"s":"0 min","x":350.8,"y":0.01244},{"s":"0 min","x":352,"y":0.0115},{"s":"0 min","x":353.2,"y":0.0109},{"s":"0 min","x":354.4,"y":0.0098},{"s":"0 min","x":355.7,"y":0.0087},{"s":"0 min","x":357,"y":0.0068},{"s":"0 min","x":358.1,"y":0.0049},{"s":"0 min","x":359.3,"y":0.0038},{"s":"0 min","x":360.5,"y":0.003},{"s":"0 min","x":361.7,"y":0.0022},{"s":"0 min","x":363,"y":0.0015},{"s":"0 min","x":364.5,"y":0.001},{"s":"0 min","x":366.2,"y":0.00064},{"s":"0 min","x":368,"y":0.0005},{"s":"0 min","x":369.5,"y":0.0007},{"s":"0 min","x":371,"y":0.00043},{"s":"0 min","x":372.5,"y":0.0003},{"s":"0 min","x":374,"y":0.0005},{"s":"0 min","x":375.5,"y":0.0002},{"s":"0 min","x":377.6,"y":0.00032},{"s":"0 min","x":379,"y":0.0006},{"s":"0 min","x":380.5,"y":0.0002},{"s":"0 min","x":382,"y":0.0005},{"s":"0 min","x":384,"y":0.00043},{"s":"0 min","x":386,"y":0.0006},{"s":"0 min","x":388,"y":0.0007},{"s":"0 min","x":390.5,"y":0.00085},{"s":"0 min","x":393,"y":0.001},{"s":"0 min","x":395,"y":0.0011},{"s":"0 min","x":397,"y":0.0013},{"s":"0 min","x":399,"y":0.0014},{"s":"0 min","x":401,"y":0.0015},{"s":"0 min","x":403.5,"y":0.0017},{"s":"0 min","x":406,"y":0.0019},{"s":"0 min","x":408,"y":0.002},{"s":"0 min","x":410,"y":0.0021},{"s":"0 min","x":412,"y":0.0024},{"s":"0 min","x":414,"y":0.0023},{"s":"0 min","x":416.5,"y":0.00255},{"s":"0 min","x":418.5,"y":0.0027},{"s":"0 min","x":421,"y":0.0026},{"s":"0 min","x":423,"y":0.0028},{"s":"0 min","x":425.5,"y":0.0027},{"s":"0 min","x":427.8,"y":0.0028},{"s":"0 min","x":430,"y":0.0027},{"s":"0 min","x":432,"y":0.0025},{"s":"0 min","x":434.3,"y":0.0023},{"s":"0 min","x":437,"y":0.0021},{"s":"0 min","x":440.8,"y":0.0017},{"s":"0 min","x":444,"y":0.0014},{"s":"0 min","x":447.3,"y":0.0011},{"s":"0 min","x":450.5,"y":0.0008},{"s":"0 min","x":453.8,"y":0.00053},{"s":"0 min","x":457,"y":0.0004},{"s":"0 min","x":460.2,"y":0.00026},{"s":"0 min","x":463,"y":0.0002},{"s":"0 min","x":466.7,"y":0.0001},{"s":"0 min","x":470,"y":0.0001},{"s":"0 min","x":473,"y":0.00005},{"s":"0 min","x":476.3,"y":0.0001},
{"s":"120 min","x":357.3,"y":0.01244},{"s":"120 min","x":358.5,"y":0.0104},{"s":"120 min","x":359.7,"y":0.0086},{"s":"120 min","x":361,"y":0.0066},{"s":"120 min","x":362.2,"y":0.005},{"s":"120 min","x":363.4,"y":0.0043},{"s":"120 min","x":364.6,"y":0.0036},{"s":"120 min","x":366,"y":0.0031},{"s":"120 min","x":367.8,"y":0.0025},{"s":"120 min","x":369,"y":0.0024},{"s":"120 min","x":370.5,"y":0.0025},{"s":"120 min","x":372.7,"y":0.0022},{"s":"120 min","x":374,"y":0.0024},{"s":"120 min","x":375.5,"y":0.0022},{"s":"120 min","x":377.6,"y":0.002},{"s":"120 min","x":379,"y":0.0018},{"s":"120 min","x":380.5,"y":0.0021},{"s":"120 min","x":382.4,"y":0.0019},{"s":"120 min","x":384,"y":0.002},{"s":"120 min","x":385.5,"y":0.0022},{"s":"120 min","x":387.3,"y":0.002},{"s":"120 min","x":389,"y":0.0021},{"s":"120 min","x":391,"y":0.0024},{"s":"120 min","x":393.8,"y":0.0027},{"s":"120 min","x":396,"y":0.003},{"s":"120 min","x":398,"y":0.0032},{"s":"120 min","x":400.3,"y":0.0037},{"s":"120 min","x":402.5,"y":0.004},{"s":"120 min","x":404.5,"y":0.0044},{"s":"120 min","x":406.7,"y":0.0047},{"s":"120 min","x":409,"y":0.005},{"s":"120 min","x":411,"y":0.0055},{"s":"120 min","x":413.2,"y":0.0058},{"s":"120 min","x":415.5,"y":0.006},{"s":"120 min","x":417.5,"y":0.0062},{"s":"120 min","x":419.7,"y":0.0063},{"s":"120 min","x":422,"y":0.0064},{"s":"120 min","x":424,"y":0.0065},{"s":"120 min","x":426.2,"y":0.0065},{"s":"120 min","x":428.5,"y":0.0066},{"s":"120 min","x":430.5,"y":0.0064},{"s":"120 min","x":432.7,"y":0.0061},{"s":"120 min","x":435,"y":0.0058},{"s":"120 min","x":437,"y":0.0053},{"s":"120 min","x":439.2,"y":0.0049},{"s":"120 min","x":441.5,"y":0.0044},{"s":"120 min","x":443.5,"y":0.004},{"s":"120 min","x":445.7,"y":0.0036},{"s":"120 min","x":448,"y":0.0032},{"s":"120 min","x":450,"y":0.0028},{"s":"120 min","x":452.1,"y":0.0024},{"s":"120 min","x":454.5,"y":0.0021},{"s":"120 min","x":456.5,"y":0.0018},{"s":"120 min","x":458.6,"y":0.0016},{"s":"120 min","x":461,"y":0.0014},{"s":"120 min","x":463,"y":0.0012},{"s":"120 min","x":465.1,"y":0.0011},{"s":"120 min","x":468,"y":0.001},{"s":"120 min","x":471.6,"y":0.001},{"s":"120 min","x":474,"y":0.001},{"s":"120 min","x":476.3,"y":0.0009},
{"s":"270 min","x":357.3,"y":0.01244},{"s":"270 min","x":358.5,"y":0.0104},{"s":"270 min","x":359.7,"y":0.0086},{"s":"270 min","x":361,"y":0.0065},{"s":"270 min","x":362.2,"y":0.005},{"s":"270 min","x":363.4,"y":0.0041},{"s":"270 min","x":364.6,"y":0.0035},{"s":"270 min","x":366,"y":0.0029},{"s":"270 min","x":367.8,"y":0.0026},{"s":"270 min","x":369,"y":0.0023},{"s":"270 min","x":370.5,"y":0.0025},{"s":"270 min","x":372.7,"y":0.0022},{"s":"270 min","x":374,"y":0.0023},{"s":"270 min","x":375.5,"y":0.0022},{"s":"270 min","x":377.6,"y":0.002},{"s":"270 min","x":379,"y":0.002},{"s":"270 min","x":380.5,"y":0.0021},{"s":"270 min","x":382.4,"y":0.0019},{"s":"270 min","x":384,"y":0.002},{"s":"270 min","x":385.5,"y":0.002},{"s":"270 min","x":387.3,"y":0.0022},{"s":"270 min","x":389,"y":0.0021},{"s":"270 min","x":391,"y":0.0024},{"s":"270 min","x":393.8,"y":0.0027},{"s":"270 min","x":396,"y":0.0031},{"s":"270 min","x":398,"y":0.0033},{"s":"270 min","x":400.3,"y":0.0037},{"s":"270 min","x":402.5,"y":0.0042},{"s":"270 min","x":404.5,"y":0.0045},{"s":"270 min","x":406.7,"y":0.0049},{"s":"270 min","x":409,"y":0.0053},{"s":"270 min","x":411,"y":0.0056},{"s":"270 min","x":413.2,"y":0.0059},{"s":"270 min","x":415.5,"y":0.0062},{"s":"270 min","x":417.5,"y":0.0064},{"s":"270 min","x":419.7,"y":0.0066},{"s":"270 min","x":422,"y":0.0066},{"s":"270 min","x":424,"y":0.0067},{"s":"270 min","x":426.2,"y":0.0068},{"s":"270 min","x":428.5,"y":0.0069},{"s":"270 min","x":430.5,"y":0.0067},{"s":"270 min","x":432.7,"y":0.0063},{"s":"270 min","x":435,"y":0.006},{"s":"270 min","x":437,"y":0.0055},{"s":"270 min","x":439.2,"y":0.005},{"s":"270 min","x":441.5,"y":0.0046},{"s":"270 min","x":443.5,"y":0.0041},{"s":"270 min","x":445.7,"y":0.0037},{"s":"270 min","x":448,"y":0.0033},{"s":"270 min","x":450,"y":0.0029},{"s":"270 min","x":452.1,"y":0.0025},{"s":"270 min","x":454.5,"y":0.0021},{"s":"270 min","x":456.5,"y":0.0019},{"s":"270 min","x":458.6,"y":0.0016},{"s":"270 min","x":461,"y":0.0014},{"s":"270 min","x":463,"y":0.0013},{"s":"270 min","x":465.1,"y":0.0012},{"s":"270 min","x":468,"y":0.0011},{"s":"270 min","x":471.6,"y":0.001},{"s":"270 min","x":474,"y":0.001},{"s":"270 min","x":476.3,"y":0.0009},
{"s":"420 min","x":357.3,"y":0.01244},{"s":"420 min","x":358.5,"y":0.0106},{"s":"420 min","x":359.7,"y":0.0088},{"s":"420 min","x":361,"y":0.0067},{"s":"420 min","x":362.2,"y":0.005},{"s":"420 min","x":363.4,"y":0.0042},{"s":"420 min","x":364.6,"y":0.0037},{"s":"420 min","x":366,"y":0.003},{"s":"420 min","x":367.8,"y":0.0026},{"s":"420 min","x":369,"y":0.0025},{"s":"420 min","x":370.5,"y":0.0026},{"s":"420 min","x":372.7,"y":0.0024},{"s":"420 min","x":374,"y":0.0025},{"s":"420 min","x":375.5,"y":0.0022},{"s":"420 min","x":377.6,"y":0.0022},{"s":"420 min","x":379,"y":0.002},{"s":"420 min","x":380.5,"y":0.0023},{"s":"420 min","x":382.4,"y":0.0021},{"s":"420 min","x":384,"y":0.002},{"s":"420 min","x":385.5,"y":0.0022},{"s":"420 min","x":387.3,"y":0.0022},{"s":"420 min","x":389,"y":0.0023},{"s":"420 min","x":391,"y":0.0024},{"s":"420 min","x":393.8,"y":0.0029},{"s":"420 min","x":396,"y":0.0031},{"s":"420 min","x":398,"y":0.0035},{"s":"420 min","x":400.3,"y":0.0039},{"s":"420 min","x":402.5,"y":0.0043},{"s":"420 min","x":404.5,"y":0.0048},{"s":"420 min","x":406.7,"y":0.0051},{"s":"420 min","x":409,"y":0.0055},{"s":"420 min","x":411,"y":0.0059},{"s":"420 min","x":413.2,"y":0.0062},{"s":"420 min","x":415.5,"y":0.0064},{"s":"420 min","x":417.5,"y":0.0068},{"s":"420 min","x":419.7,"y":0.0071},{"s":"420 min","x":422,"y":0.0072},{"s":"420 min","x":424,"y":0.0073},{"s":"420 min","x":426.2,"y":0.0073},{"s":"420 min","x":428.5,"y":0.0075},{"s":"420 min","x":430.5,"y":0.0073},{"s":"420 min","x":432.7,"y":0.0069},{"s":"420 min","x":435,"y":0.0066},{"s":"420 min","x":437,"y":0.0061},{"s":"420 min","x":439.2,"y":0.0055},{"s":"420 min","x":441.5,"y":0.0051},{"s":"420 min","x":443.5,"y":0.0047},{"s":"420 min","x":445.7,"y":0.0043},{"s":"420 min","x":448,"y":0.0038},{"s":"420 min","x":450,"y":0.0034},{"s":"420 min","x":452.1,"y":0.003},{"s":"420 min","x":454.5,"y":0.0026},{"s":"420 min","x":456.5,"y":0.0023},{"s":"420 min","x":458.6,"y":0.002},{"s":"420 min","x":461,"y":0.0017},{"s":"420 min","x":463,"y":0.0016},{"s":"420 min","x":465.1,"y":0.0015},{"s":"420 min","x":468,"y":0.0014},{"s":"420 min","x":471.6,"y":0.0014},{"s":"420 min","x":474,"y":0.0013},{"s":"420 min","x":476.3,"y":0.0013},
{"s":"480 min","x":357.3,"y":0.01244},{"s":"480 min","x":358.5,"y":0.0105},{"s":"480 min","x":359.7,"y":0.0087},{"s":"480 min","x":361,"y":0.0066},{"s":"480 min","x":362.2,"y":0.0049},{"s":"480 min","x":363.4,"y":0.0042},{"s":"480 min","x":364.6,"y":0.0036},{"s":"480 min","x":366,"y":0.003},{"s":"480 min","x":367.8,"y":0.00255},{"s":"480 min","x":369,"y":0.0024},{"s":"480 min","x":370.5,"y":0.0026},{"s":"480 min","x":372.7,"y":0.0023},{"s":"480 min","x":374,"y":0.0024},{"s":"480 min","x":375.5,"y":0.0021},{"s":"480 min","x":377.6,"y":0.0021},{"s":"480 min","x":379,"y":0.0019},{"s":"480 min","x":380.5,"y":0.0022},{"s":"480 min","x":382.4,"y":0.002},{"s":"480 min","x":384,"y":0.0019},{"s":"480 min","x":385.5,"y":0.0021},{"s":"480 min","x":387.3,"y":0.0021},{"s":"480 min","x":389,"y":0.0022},{"s":"480 min","x":391,"y":0.0023},{"s":"480 min","x":393.8,"y":0.0028},{"s":"480 min","x":396,"y":0.003},{"s":"480 min","x":398,"y":0.0034},{"s":"480 min","x":400.3,"y":0.0038},{"s":"480 min","x":402.5,"y":0.0041},{"s":"480 min","x":404.5,"y":0.0046},{"s":"480 min","x":406.7,"y":0.0049},{"s":"480 min","x":409,"y":0.0052},{"s":"480 min","x":411,"y":0.0057},{"s":"480 min","x":413.2,"y":0.006},{"s":"480 min","x":415.5,"y":0.0062},{"s":"480 min","x":417.5,"y":0.0065},{"s":"480 min","x":419.7,"y":0.0066},{"s":"480 min","x":422,"y":0.0067},{"s":"480 min","x":424,"y":0.0068},{"s":"480 min","x":426.2,"y":0.0069},{"s":"480 min","x":428.5,"y":0.007},{"s":"480 min","x":430.5,"y":0.0068},{"s":"480 min","x":432.7,"y":0.0064},{"s":"480 min","x":435,"y":0.0061},{"s":"480 min","x":437,"y":0.0056},{"s":"480 min","x":439.2,"y":0.0051},{"s":"480 min","x":441.5,"y":0.0047},{"s":"480 min","x":443.5,"y":0.0042},{"s":"480 min","x":445.7,"y":0.0038},{"s":"480 min","x":448,"y":0.0034},{"s":"480 min","x":450,"y":0.003},{"s":"480 min","x":452.1,"y":0.00255},{"s":"480 min","x":454.5,"y":0.0022},{"s":"480 min","x":456.5,"y":0.0019},{"s":"480 min","x":458.6,"y":0.0017},{"s":"480 min","x":461,"y":0.0015},{"s":"480 min","x":463,"y":0.0013},{"s":"480 min","x":465.1,"y":0.0012},{"s":"480 min","x":468,"y":0.0011},{"s":"480 min","x":471.6,"y":0.0011},{"s":"480 min","x":474,"y":0.001},{"s":"480 min","x":476.3,"y":0.001}
]
},
"layer": [
{
 "data": {"name": "aM"},
 "mark": {"type": "line", "interpolate": "monotone", "strokeWidth": 1.6},
 "encoding": {
  "x": {"field": "x", "type": "quantitative", "scale": {"domain": [250, 750], "range": [89, 484], "nice": false, "zero": false},
   "axis": {"orient": "bottom", "offset": -490.5, "zindex": 1, "title": "λ (nm)", "values": [250,300,350,400,450,500,550,600,650,700,750],
    "labelExpr": "datum.value % 100 == 0 ? datum.label : ''", "tickSize": {"condition": {"test": "datum.value % 100 == 0", "value": 6}, "value": 3},
    "domainColor": "#ef5350", "tickColor": "#ef5350", "domainWidth": 1.5, "tickWidth": 1.2,
    "labelFontSize": 17, "labelPadding": 3, "titleFontSize": 16.5, "titlePadding": 7}},
  "y": {"field": "y", "type": "quantitative", "scale": {"domain": [-0.05, 1], "range": [391.5, 60], "nice": false, "zero": false},
   "axis": {"orient": "left", "offset": -89, "zindex": 1, "title": "Absorbance (u.a.)", "values": [0,0.1,0.2,0.3,0.4,0.5,0.6,0.7,0.8,0.9,1],
    "labelExpr": "round(datum.value*10) % 2 == 0 ? replace(format(datum.value, '.1f'), '.', ',') : ''",
    "tickSize": {"condition": {"test": "round(datum.value*10) % 2 == 0", "value": 6}, "value": 3},
    "domainColor": "#ef5350", "tickColor": "#ef5350", "domainWidth": 1.5, "tickWidth": 1.2,
    "labelFontSize": 17, "labelPadding": 4, "titleFontSize": 16.5, "titlePadding": 4}},
  "color": {"field": "s", "type": "nominal",
   "scale": {"domain": ["H₂O","0 min","60 min","120 min","270 min","390 min","500 min"], "range": ["#4f81bd","#c0504d","#9bbb59","#8064a2","#f79646","#4bacc6","#9e1048"]},
   "legend": {"orient": "none", "legendX": 498, "legendY": 65, "title": null, "symbolType": "M-4,0H4", "symbolSize": 100, "symbolStrokeWidth": 2, "labelOffset": 18, "rowPadding": 6}}
 }
},
{
 "data": {"name": "aM"},
 "mark": {"type": "line", "opacity": 0},
 "encoding": {
  "x": {"field": "x", "type": "quantitative", "scale": {"domain": [250, 750], "range": [89, 484], "nice": false, "zero": false},
   "axis": {"orient": "top", "offset": -60, "zindex": 1, "labels": false, "ticks": false, "title": null, "domainColor": "#ef5350", "domainWidth": 1.5}},
  "y": {"field": "y", "type": "quantitative", "scale": {"domain": [-0.05, 1], "range": [391.5, 60], "nice": false, "zero": false},
   "axis": {"orient": "right", "offset": -716, "zindex": 1, "labels": false, "ticks": false, "title": null, "domainColor": "#ef5350", "domainWidth": 1.5}}
 }
},
{
 "data": {"name": "aI"},
 "mark": {"type": "line", "strokeWidth": 1.4},
 "encoding": {
  "x": {"field": "x", "type": "quantitative", "scale": {"domain": [350, 476.8], "range": [223.3, 484], "nice": false, "zero": false},
   "axis": {"orient": "bottom", "offset": -612, "zindex": 1, "values": [350,360,370,380,390,400,410,420,430,440,450,460,470],
    "labelExpr": "(datum.value - 350) % 20 == 0 ? datum.label : ''", "tickSize": {"condition": {"test": "(datum.value - 350) % 20 == 0", "value": 4}, "value": 2},
    "domainColor": "#555", "tickColor": "#555", "labelFontSize": 12.5, "labelPadding": 2,
    "title": "Sonolyse A-UO₃", "titleX": 280, "titleY": -226.7, "titleAlign": "center", "titleBaseline": "alphabetic", "titleFont": "Open Sans", "titleFontSize": 31, "titleFontWeight": "bold", "titleColor": "#c00000"}},
  "y": {"field": "y", "type": "quantitative", "scale": {"domain": [-0.005, 0.0699], "range": [270, 60], "nice": false, "zero": false},
   "axis": {"orient": "left", "offset": -223.3, "zindex": 1, "values": [0,0.01,0.02,0.03,0.04,0.05,0.06],
    "labelExpr": "round(datum.value*100) % 2 == 0 ? replace(format(datum.value, '.2f'), '.', ',') : ''",
    "tickSize": {"condition": {"test": "round(datum.value*100) % 2 == 0", "value": 4}, "value": 2},
    "domainColor": "#555", "tickColor": "#555", "labelFontSize": 12.5, "labelPadding": 2,
    "title": "a.", "titleAngle": 0, "titleX": -213.7, "titleY": 80, "titleAlign": "left", "titleBaseline": "alphabetic", "titleFont": "Open Sans", "titleFontSize": 30, "titleFontWeight": "bold", "titleColor": "#000"}},
  "color": {"field": "s", "type": "nominal",
   "scale": {"domain": ["H₂O","0 min","60 min","120 min","270 min","390 min","500 min"], "range": ["#4f81bd","#c0504d","#9bbb59","#8064a2","#f79646","#4bacc6","#9e1048"]},
   "legend": null}
 }
},
{
 "data": {"name": "bM"},
 "mark": {"type": "line", "interpolate": "monotone", "strokeWidth": 1.6},
 "encoding": {
  "x": {"field": "x", "type": "quantitative", "scale": {"domain": [250, 750], "range": [709, 1103], "nice": false, "zero": false},
   "axis": {"orient": "bottom", "offset": -490.5, "zindex": 1, "title": "λ (nm)", "values": [250,300,350,400,450,500,550,600,650,700,750],
    "labelExpr": "datum.value % 100 == 0 ? datum.label : ''", "tickSize": {"condition": {"test": "datum.value % 100 == 0", "value": 6}, "value": 3},
    "domainColor": "#4444c8", "tickColor": "#4444c8", "domainWidth": 1.5, "tickWidth": 1.2,
    "labelFontSize": 17, "labelPadding": 3, "titleFontSize": 16.5, "titlePadding": 7}},
  "y": {"field": "y", "type": "quantitative", "scale": {"domain": [-0.05, 1], "range": [391.5, 60], "nice": false, "zero": false},
   "axis": {"orient": "left", "offset": -709, "zindex": 1, "title": "Absorbance (u.a.)", "values": [0,0.1,0.2,0.3,0.4,0.5,0.6,0.7,0.8,0.9,1],
    "labelExpr": "round(datum.value*10) % 2 == 0 ? replace(format(datum.value, '.1f'), '.', ',') : ''",
    "tickSize": {"condition": {"test": "round(datum.value*10) % 2 == 0", "value": 6}, "value": 3},
    "domainColor": "#4444c8", "tickColor": "#4444c8", "domainWidth": 1.5, "tickWidth": 1.2,
    "labelFontSize": 17, "labelPadding": 4, "titleFontSize": 16.5, "titlePadding": 4}},
  "color": {"field": "s", "type": "nominal",
   "scale": {"domain": ["H₂O","0 min","120 min","240 min","410 min","480 min"], "range": ["#4f81bd","#d9463f","#8fbc45","#7b45a8","#f7892a","#3db4cc"]},
   "legend": {"orient": "none", "legendX": 1117, "legendY": 65, "title": null, "symbolType": "M-4,0H4", "symbolSize": 100, "symbolStrokeWidth": 2, "labelOffset": 18, "rowPadding": 6}}
 }
},
{
 "data": {"name": "bM"},
 "mark": {"type": "line", "opacity": 0},
 "encoding": {
  "x": {"field": "x", "type": "quantitative", "scale": {"domain": [250, 750], "range": [709, 1103], "nice": false, "zero": false},
   "axis": {"orient": "top", "offset": -60, "zindex": 1, "labels": false, "ticks": false, "title": null, "domainColor": "#4444c8", "domainWidth": 1.5}},
  "y": {"field": "y", "type": "quantitative", "scale": {"domain": [-0.05, 1], "range": [391.5, 60], "nice": false, "zero": false},
   "axis": {"orient": "right", "offset": -97, "zindex": 1, "labels": false, "ticks": false, "title": null, "domainColor": "#4444c8", "domainWidth": 1.5}}
 }
},
{
 "data": {"name": "bI"},
 "mark": {"type": "line", "strokeWidth": 1.4},
 "encoding": {
  "x": {"field": "x", "type": "quantitative", "scale": {"domain": [350, 476.3], "range": [843.3, 1103], "nice": false, "zero": false},
   "axis": {"orient": "bottom", "offset": -612, "zindex": 1, "values": [350,360,370,380,390,400,410,420,430,440,450,460,470],
    "labelExpr": "(datum.value - 350) % 20 == 0 ? datum.label : ''", "tickSize": {"condition": {"test": "(datum.value - 350) % 20 == 0", "value": 4}, "value": 2},
    "domainColor": "#555", "tickColor": "#555", "labelFontSize": 12.5, "labelPadding": 2,
    "title": "Agitation A-UO₃", "titleX": 902, "titleY": -228.3, "titleAlign": "center", "titleBaseline": "alphabetic", "titleFont": "Open Sans", "titleFontSize": 31, "titleFontWeight": "bold", "titleColor": "#0b6fc1"}},
  "y": {"field": "y", "type": "quantitative", "scale": {"domain": [-0.00104, 0.0225], "range": [270, 60], "nice": false, "zero": false},
   "axis": {"orient": "left", "offset": -843.3, "zindex": 1, "values": [0,0.0025,0.005,0.0075,0.01,0.0125,0.015,0.0175,0.02],
    "labelExpr": "round(datum.value*400) % 2 == 0 ? replace(format(datum.value, '.3f'), '.', ',') : ''",
    "tickSize": {"condition": {"test": "round(datum.value*400) % 2 == 0", "value": 4}, "value": 2},
    "domainColor": "#555", "tickColor": "#555", "labelFontSize": 12.5, "labelPadding": 2,
    "title": "b.", "titleAngle": 0, "titleX": -218.3, "titleY": 80, "titleAlign": "left", "titleBaseline": "alphabetic", "titleFont": "Open Sans", "titleFontSize": 30, "titleFontWeight": "bold", "titleColor": "#000"}},
  "color": {"field": "s", "type": "nominal",
   "scale": {"domain": ["H₂O","0 min","120 min","240 min","410 min","480 min"], "range": ["#4f81bd","#d9463f","#8fbc45","#7b45a8","#f7892a","#3db4cc"]},
   "legend": null}
 }
},
{
 "data": {"name": "cM"},
 "mark": {"type": "line", "interpolate": "monotone", "strokeWidth": 1.6},
 "encoding": {
  "x": {"field": "x", "type": "quantitative", "scale": {"domain": [250, 750], "range": [89, 484], "nice": false, "zero": false},
   "axis": {"orient": "bottom", "offset": -46.5, "zindex": 1, "title": "λ (nm)", "values": [250,300,350,400,450,500,550,600,650,700,750],
    "labelExpr": "datum.value % 100 == 0 ? datum.label : ''", "tickSize": {"condition": {"test": "datum.value % 100 == 0", "value": 6}, "value": 3},
    "domainColor": "#ef5350", "tickColor": "#ef5350", "domainWidth": 1.5, "tickWidth": 1.2,
    "labelFontSize": 17, "labelPadding": 3, "titleFontSize": 16.5, "titlePadding": 2}},
  "y": {"field": "y", "type": "quantitative", "scale": {"domain": [-0.05, 1], "range": [835.5, 503.5], "nice": false, "zero": false},
   "axis": {"orient": "left", "offset": -89, "zindex": 1, "title": "Absorbance (u.a.)", "values": [0,0.1,0.2,0.3,0.4,0.5,0.6,0.7,0.8,0.9,1],
    "labelExpr": "round(datum.value*10) % 2 == 0 ? replace(format(datum.value, '.1f'), '.', ',') : ''",
    "tickSize": {"condition": {"test": "round(datum.value*10) % 2 == 0", "value": 6}, "value": 3},
    "domainColor": "#ef5350", "tickColor": "#ef5350", "domainWidth": 1.5, "tickWidth": 1.2,
    "labelFontSize": 17, "labelPadding": 4, "titleFontSize": 16.5, "titlePadding": 4}},
  "color": {"field": "s", "type": "nominal",
   "scale": {"domain": ["H₂O","0 min","60 min","120 min","270 min","390 min","480 min"], "range": ["#4f81bd","#c0504d","#9bbb59","#8064a2","#f79646","#4bacc6","#9e1048"]},
   "legend": {"orient": "none", "legendX": 498, "legendY": 510, "title": null, "symbolType": "M-4,0H4", "symbolSize": 100, "symbolStrokeWidth": 2, "labelOffset": 18, "rowPadding": 6}}
 }
},
{
 "data": {"name": "cM"},
 "mark": {"type": "line", "opacity": 0},
 "encoding": {
  "x": {"field": "x", "type": "quantitative", "scale": {"domain": [250, 750], "range": [89, 484], "nice": false, "zero": false},
   "axis": {"orient": "top", "offset": -503.5, "zindex": 1, "labels": false, "ticks": false, "title": null, "domainColor": "#ef5350", "domainWidth": 1.5}},
  "y": {"field": "y", "type": "quantitative", "scale": {"domain": [-0.05, 1], "range": [835.5, 503.5], "nice": false, "zero": false},
   "axis": {"orient": "right", "offset": -716, "zindex": 1, "labels": false, "ticks": false, "title": null, "domainColor": "#ef5350", "domainWidth": 1.5}}
 }
},
{
 "data": {"name": "cI"},
 "mark": {"type": "line", "strokeWidth": 1.4},
 "encoding": {
  "x": {"field": "x", "type": "quantitative", "scale": {"domain": [350, 476.8], "range": [223.3, 484], "nice": false, "zero": false},
   "axis": {"orient": "bottom", "offset": -168.5, "zindex": 1, "values": [350,360,370,380,390,400,410,420,430,440,450,460,470],
    "labelExpr": "(datum.value - 350) % 20 == 0 ? datum.label : ''", "tickSize": {"condition": {"test": "(datum.value - 350) % 20 == 0", "value": 4}, "value": 2},
    "domainColor": "#555", "tickColor": "#555", "labelFontSize": 12.5, "labelPadding": 2,
    "title": "Sonolyse β-UO₃", "titleX": 279.3, "titleY": -227.5, "titleAlign": "center", "titleBaseline": "alphabetic", "titleFont": "Open Sans", "titleFontSize": 31, "titleFontWeight": "bold", "titleColor": "#c00000"}},
  "y": {"field": "y", "type": "quantitative", "scale": {"domain": [-0.0051, 0.0649], "range": [713.5, 503.5], "nice": false, "zero": false},
   "axis": {"orient": "left", "offset": -223.3, "zindex": 1, "values": [0,0.01,0.02,0.03,0.04,0.05,0.06],
    "labelExpr": "round(datum.value*100) % 2 == 0 ? replace(format(datum.value, '.2f'), '.', ',') : ''",
    "tickSize": {"condition": {"test": "round(datum.value*100) % 2 == 0", "value": 4}, "value": 2},
    "domainColor": "#555", "tickColor": "#555", "labelFontSize": 12.5, "labelPadding": 2,
    "title": "c.", "titleAngle": 0, "titleX": -211.8, "titleY": 522.7, "titleAlign": "left", "titleBaseline": "alphabetic", "titleFont": "Open Sans", "titleFontSize": 30, "titleFontWeight": "bold", "titleColor": "#000"}},
  "color": {"field": "s", "type": "nominal",
   "scale": {"domain": ["H₂O","0 min","60 min","120 min","270 min","390 min","480 min"], "range": ["#4f81bd","#c0504d","#9bbb59","#8064a2","#f79646","#4bacc6","#9e1048"]},
   "legend": null}
 }
},
{
 "data": {"name": "dM"},
 "mark": {"type": "line", "interpolate": "monotone", "strokeWidth": 1.6},
 "encoding": {
  "x": {"field": "x", "type": "quantitative", "scale": {"domain": [250, 750], "range": [709, 1103], "nice": false, "zero": false},
   "axis": {"orient": "bottom", "offset": -46.5, "zindex": 1, "title": "λ (nm)", "values": [250,300,350,400,450,500,550,600,650,700,750],
    "labelExpr": "datum.value % 100 == 0 ? datum.label : ''", "tickSize": {"condition": {"test": "datum.value % 100 == 0", "value": 6}, "value": 3},
    "domainColor": "#4444c8", "tickColor": "#4444c8", "domainWidth": 1.5, "tickWidth": 1.2,
    "labelFontSize": 17, "labelPadding": 3, "titleFontSize": 16.5, "titlePadding": 2}},
  "y": {"field": "y", "type": "quantitative", "scale": {"domain": [-0.05, 1], "range": [835.5, 503.5], "nice": false, "zero": false},
   "axis": {"orient": "left", "offset": -709, "zindex": 1, "title": "Absorbance (u.a.)", "values": [0,0.1,0.2,0.3,0.4,0.5,0.6,0.7,0.8,0.9,1],
    "labelExpr": "round(datum.value*10) % 2 == 0 ? replace(format(datum.value, '.1f'), '.', ',') : ''",
    "tickSize": {"condition": {"test": "round(datum.value*10) % 2 == 0", "value": 6}, "value": 3},
    "domainColor": "#4444c8", "tickColor": "#4444c8", "domainWidth": 1.5, "tickWidth": 1.2,
    "labelFontSize": 17, "labelPadding": 4, "titleFontSize": 16.5, "titlePadding": 4}},
  "color": {"field": "s", "type": "nominal",
   "scale": {"domain": ["H₂O","0 min","120 min","270 min","420 min","480 min"], "range": ["#4f81bd","#d03c3c","#8fbc45","#7b45a8","#f7892a","#3aa9c6"]},
   "legend": {"orient": "none", "legendX": 1117, "legendY": 510, "title": null, "symbolType": "M-4,0H4", "symbolSize": 100, "symbolStrokeWidth": 2, "labelOffset": 18, "rowPadding": 6}}
 }
},
{
 "data": {"name": "dM"},
 "mark": {"type": "line", "opacity": 0},
 "encoding": {
  "x": {"field": "x", "type": "quantitative", "scale": {"domain": [250, 750], "range": [709, 1103], "nice": false, "zero": false},
   "axis": {"orient": "top", "offset": -503.5, "zindex": 1, "labels": false, "ticks": false, "title": null, "domainColor": "#4444c8", "domainWidth": 1.5}},
  "y": {"field": "y", "type": "quantitative", "scale": {"domain": [-0.05, 1], "range": [835.5, 503.5], "nice": false, "zero": false},
   "axis": {"orient": "right", "offset": -97, "zindex": 1, "labels": false, "ticks": false, "title": null, "domainColor": "#4444c8", "domainWidth": 1.5}}
 }
},
{
 "data": {"name": "dI"},
 "mark": {"type": "line", "strokeWidth": 1.4},
 "encoding": {
  "x": {"field": "x", "type": "quantitative", "scale": {"domain": [350, 476.3], "range": [843.3, 1103], "nice": false, "zero": false},
   "axis": {"orient": "bottom", "offset": -168.5, "zindex": 1, "values": [350,360,370,380,390,400,410,420,430,440,450,460,470],
    "labelExpr": "(datum.value - 350) % 20 == 0 ? datum.label : ''", "tickSize": {"condition": {"test": "(datum.value - 350) % 20 == 0", "value": 4}, "value": 2},
    "domainColor": "#555", "tickColor": "#555", "labelFontSize": 12.5, "labelPadding": 2,
    "title": "Agitation β-UO₃", "titleX": 901, "titleY": -228.5, "titleAlign": "center", "titleBaseline": "alphabetic", "titleFont": "Open Sans", "titleFontSize": 31, "titleFontWeight": "bold", "titleColor": "#0b6fc1"}},
  "y": {"field": "y", "type": "quantitative", "scale": {"domain": [-0.00092, 0.01244], "range": [713.5, 503.5], "nice": false, "zero": false},
   "axis": {"orient": "left", "offset": -843.3, "zindex": 1, "values": [0,0.0025,0.005,0.0075,0.01],
    "labelExpr": "round(datum.value*400) % 2 == 0 ? replace(format(datum.value, '.3f'), '.', ',') : ''",
    "tickSize": {"condition": {"test": "round(datum.value*400) % 2 == 0", "value": 4}, "value": 2},
    "domainColor": "#555", "tickColor": "#555", "labelFontSize": 12.5, "labelPadding": 2,
    "title": "d.", "titleAngle": 0, "titleX": -218.3, "titleY": 522.7, "titleAlign": "left", "titleBaseline": "alphabetic", "titleFont": "Open Sans", "titleFontSize": 30, "titleFontWeight": "bold", "titleColor": "#000"}},
  "color": {"field": "s", "type": "nominal",
   "scale": {"domain": ["H₂O","0 min","120 min","270 min","420 min","480 min"], "range": ["#4f81bd","#d03c3c","#8fbc45","#7b45a8","#f7892a","#3aa9c6"]},
   "legend": null}
 }
}
],
"resolve": {"scale": {"x": "independent", "y": "independent", "color": "independent"}, "axis": {"x": "independent", "y": "independent"}, "legend": {"color": "independent"}}
}
